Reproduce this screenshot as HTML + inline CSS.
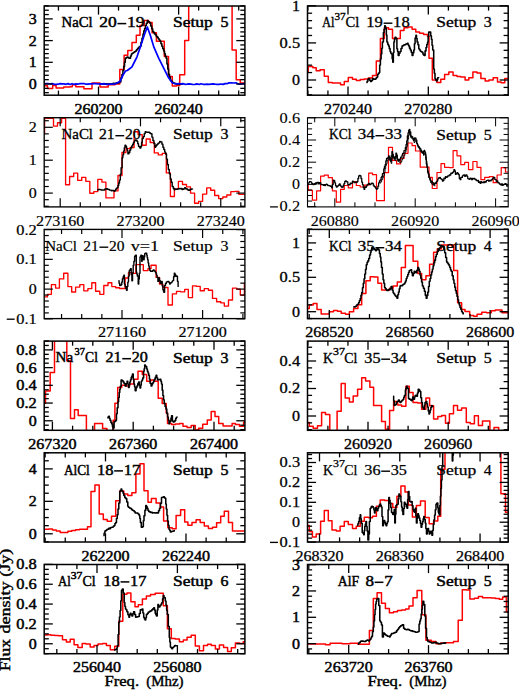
<!DOCTYPE html>
<html><head><meta charset="utf-8"><style>
html,body{margin:0;padding:0;background:#fff;}
svg{display:block;}
text{font-family:"Liberation Serif",serif;fill:#000;}
</style></head><body>
<svg width="519" height="690" viewBox="0 0 519 690">
<g id="L1">
<clipPath id="cL1"><rect x="44.2" y="6.0" width="200.7" height="89.2"/></clipPath>
<g clip-path="url(#cL1)" fill="none" stroke-linejoin="round">
<path d="M43.5,85.8H47.5V88.4H52.7V85.5H56.1V88.1H63.7V87.0H70.0V86.8H72.3V84.7H75.8V86.8H83.9V88.7H92.0V83.0H100.0V87.0H108.2V84.7H115.0V84.1H119.8V69.4H124.1V55.3H127.8V50.4H132.0V42.5H136.3V35.2H140.0V25.5H144.2V20.4H148.5V22.4H152.1V32.8H156.4V41.3H164.3V56.6H168.5V76.5H172.3V86.0H176.5V85.5H179.7V74.8H184.7V40.4H188.7V-10.0H232.1V49.9H236.2V79.7H240.3V83.0H246.0" stroke="#ff0000" stroke-width="1.49"/>
<path d="M100.00,84.20H101.00V83.89H102.00V83.93H103.00V84.08H104.00V84.23H105.00V83.88H106.00V83.85H107.00V83.90H108.00V84.19H109.00V83.81H110.00V84.00H111.00V84.00H112.00V83.82H113.00V83.36H114.00V83.46H115.00V83.30H115.98V83.03H116.96V82.77H117.94V82.88H118.92V82.10H119.90V82.10H120.90V77.95H121.90V74.63H122.90V70.50H123.70V66.38H124.50V62.19H125.30V58.30H126.25V57.60H127.20V57.10H128.00V57.42H128.80V58.17H129.60V58.30H130.50V56.03H131.40V54.10H132.18V53.33H132.95V52.95H133.72V52.33H134.50V51.70H135.50V50.94H136.50V49.84H137.50V48.60H138.33V47.71H139.17V46.82H140.00V46.20H141.00V42.34H142.00V38.36H143.00V34.00H143.80V30.88H144.60V28.47H145.40V25.50H146.35V23.27H147.30V20.60H148.10V21.49H148.90V22.03H149.70V23.00H150.70V26.04H151.70V28.87H152.70V31.60H153.62V32.62H154.55V34.08H155.47V35.03H156.40V36.40H157.30V37.35H158.20V38.75H159.10V39.98H160.00V41.30H160.93V43.66H161.85V46.24H162.77V48.78H163.70V51.00H164.50V53.71H165.30V56.15H166.10V58.30H166.93V63.90H167.77V69.07H168.60V74.20H169.50V77.13H170.40V80.30H171.20V80.91H172.00V81.97H172.80V82.70H173.60V83.05H174.40V83.45H175.20V83.43H176.00V84.00H177.00V83.86H178.00V84.34H179.00V84.19H180.00V84.29H181.00V83.97H182.00V84.20H183.00V84.30" stroke="#000000" stroke-width="1.54"/>
<path d="M43.5,84.2 L45.7,83.7 L47.8,83.5 L50.0,84.0 L52.0,83.6 L54.0,84.1 L56.0,84.4 L58.0,84.2 L60.0,83.6 L62.0,83.9 L64.0,83.9 L66.0,84.3 L68.0,83.6 L70.0,84.5 L72.0,83.7 L74.0,84.3 L76.0,83.9 L78.0,84.2 L80.0,83.5 L82.0,83.7 L84.0,83.5 L86.0,84.2 L88.0,84.1 L90.0,83.8 L92.0,83.8 L94.0,83.6 L96.0,83.7 L98.0,84.0 L100.0,83.8 L102.0,84.1 L104.0,83.6 L106.0,84.3 L108.0,84.4 L110.0,84.2 L112.0,84.1 L114.0,84.0 L116.0,83.6 L119.9,81.5 L123.5,74.2 L125.5,71.0 L127.2,70.5 L129.6,68.7 L132.0,66.9 L134.4,62.0 L136.9,57.1 L140.6,46.2 L144.2,35.2 L147.3,27.0 L150.3,35.2 L154.0,47.4 L156.4,52.8 L158.8,58.3 L161.2,63.2 L163.7,68.1 L166.1,72.9 L168.6,77.8 L172.2,82.7 L175.0,83.7 L177.0,83.8 L179.0,83.5 L181.0,83.8 L183.0,83.6 L185.0,84.3 L187.0,84.1 L189.0,83.8 L191.0,84.1 L193.0,84.5 L195.0,84.3 L197.0,83.9 L199.0,84.5 L201.0,83.7 L203.0,84.3 L205.0,84.3 L207.0,84.2 L209.0,84.4 L211.0,84.1 L213.0,83.9 L215.0,84.2 L217.0,84.4 L219.0,84.4 L221.0,84.0 L223.0,84.4 L225.0,83.6 L227.0,83.7 L229.0,82.9 L231.0,82.9 L234.0,83.0 L236.0,82.8 L238.0,84.0 L240.0,84.1 L242.0,84.0 L244.0,83.5 L246.0,84.0" stroke="#0000ff" stroke-width="1.71"/>
</g>
<g stroke="#000" fill="none">
<rect x="44.2" y="6.0" width="200.7" height="89.2" stroke-width="1.5"/>
<line x1="58.44" y1="95.20" x2="58.44" y2="90.60" stroke-width="1.3"/>
<line x1="58.44" y1="6.00" x2="58.44" y2="10.60" stroke-width="1.3"/>
<line x1="78.47" y1="95.20" x2="78.47" y2="90.60" stroke-width="1.3"/>
<line x1="78.47" y1="6.00" x2="78.47" y2="10.60" stroke-width="1.3"/>
<line x1="98.50" y1="95.20" x2="98.50" y2="86.60" stroke-width="1.3"/>
<line x1="98.50" y1="6.00" x2="98.50" y2="14.60" stroke-width="1.3"/>
<line x1="118.53" y1="95.20" x2="118.53" y2="90.60" stroke-width="1.3"/>
<line x1="118.53" y1="6.00" x2="118.53" y2="10.60" stroke-width="1.3"/>
<line x1="138.56" y1="95.20" x2="138.56" y2="90.60" stroke-width="1.3"/>
<line x1="138.56" y1="6.00" x2="138.56" y2="10.60" stroke-width="1.3"/>
<line x1="158.59" y1="95.20" x2="158.59" y2="90.60" stroke-width="1.3"/>
<line x1="158.59" y1="6.00" x2="158.59" y2="10.60" stroke-width="1.3"/>
<line x1="178.62" y1="95.20" x2="178.62" y2="86.60" stroke-width="1.3"/>
<line x1="178.62" y1="6.00" x2="178.62" y2="14.60" stroke-width="1.3"/>
<line x1="198.65" y1="95.20" x2="198.65" y2="90.60" stroke-width="1.3"/>
<line x1="198.65" y1="6.00" x2="198.65" y2="10.60" stroke-width="1.3"/>
<line x1="218.68" y1="95.20" x2="218.68" y2="90.60" stroke-width="1.3"/>
<line x1="218.68" y1="6.00" x2="218.68" y2="10.60" stroke-width="1.3"/>
<line x1="238.71" y1="95.20" x2="238.71" y2="90.60" stroke-width="1.3"/>
<line x1="238.71" y1="6.00" x2="238.71" y2="10.60" stroke-width="1.3"/>
<line x1="44.20" y1="5.88" x2="48.80" y2="5.88" stroke-width="1.3"/>
<line x1="244.90" y1="5.88" x2="240.30" y2="5.88" stroke-width="1.3"/>
<line x1="44.20" y1="10.22" x2="48.80" y2="10.22" stroke-width="1.3"/>
<line x1="244.90" y1="10.22" x2="240.30" y2="10.22" stroke-width="1.3"/>
<line x1="44.20" y1="14.56" x2="48.80" y2="14.56" stroke-width="1.3"/>
<line x1="244.90" y1="14.56" x2="240.30" y2="14.56" stroke-width="1.3"/>
<line x1="44.20" y1="18.90" x2="52.80" y2="18.90" stroke-width="1.3"/>
<line x1="244.90" y1="18.90" x2="236.30" y2="18.90" stroke-width="1.3"/>
<line x1="44.20" y1="23.24" x2="48.80" y2="23.24" stroke-width="1.3"/>
<line x1="244.90" y1="23.24" x2="240.30" y2="23.24" stroke-width="1.3"/>
<line x1="44.20" y1="27.58" x2="48.80" y2="27.58" stroke-width="1.3"/>
<line x1="244.90" y1="27.58" x2="240.30" y2="27.58" stroke-width="1.3"/>
<line x1="44.20" y1="31.92" x2="48.80" y2="31.92" stroke-width="1.3"/>
<line x1="244.90" y1="31.92" x2="240.30" y2="31.92" stroke-width="1.3"/>
<line x1="44.20" y1="36.26" x2="48.80" y2="36.26" stroke-width="1.3"/>
<line x1="244.90" y1="36.26" x2="240.30" y2="36.26" stroke-width="1.3"/>
<line x1="44.20" y1="40.60" x2="52.80" y2="40.60" stroke-width="1.3"/>
<line x1="244.90" y1="40.60" x2="236.30" y2="40.60" stroke-width="1.3"/>
<line x1="44.20" y1="44.94" x2="48.80" y2="44.94" stroke-width="1.3"/>
<line x1="244.90" y1="44.94" x2="240.30" y2="44.94" stroke-width="1.3"/>
<line x1="44.20" y1="49.28" x2="48.80" y2="49.28" stroke-width="1.3"/>
<line x1="244.90" y1="49.28" x2="240.30" y2="49.28" stroke-width="1.3"/>
<line x1="44.20" y1="53.62" x2="48.80" y2="53.62" stroke-width="1.3"/>
<line x1="244.90" y1="53.62" x2="240.30" y2="53.62" stroke-width="1.3"/>
<line x1="44.20" y1="57.96" x2="48.80" y2="57.96" stroke-width="1.3"/>
<line x1="244.90" y1="57.96" x2="240.30" y2="57.96" stroke-width="1.3"/>
<line x1="44.20" y1="62.30" x2="52.80" y2="62.30" stroke-width="1.3"/>
<line x1="244.90" y1="62.30" x2="236.30" y2="62.30" stroke-width="1.3"/>
<line x1="44.20" y1="66.64" x2="48.80" y2="66.64" stroke-width="1.3"/>
<line x1="244.90" y1="66.64" x2="240.30" y2="66.64" stroke-width="1.3"/>
<line x1="44.20" y1="70.98" x2="48.80" y2="70.98" stroke-width="1.3"/>
<line x1="244.90" y1="70.98" x2="240.30" y2="70.98" stroke-width="1.3"/>
<line x1="44.20" y1="75.32" x2="48.80" y2="75.32" stroke-width="1.3"/>
<line x1="244.90" y1="75.32" x2="240.30" y2="75.32" stroke-width="1.3"/>
<line x1="44.20" y1="79.66" x2="48.80" y2="79.66" stroke-width="1.3"/>
<line x1="244.90" y1="79.66" x2="240.30" y2="79.66" stroke-width="1.3"/>
<line x1="44.20" y1="84.00" x2="52.80" y2="84.00" stroke-width="1.3"/>
<line x1="244.90" y1="84.00" x2="236.30" y2="84.00" stroke-width="1.3"/>
<line x1="44.20" y1="88.34" x2="48.80" y2="88.34" stroke-width="1.3"/>
<line x1="244.90" y1="88.34" x2="240.30" y2="88.34" stroke-width="1.3"/>
<line x1="44.20" y1="92.68" x2="48.80" y2="92.68" stroke-width="1.3"/>
<line x1="244.90" y1="92.68" x2="240.30" y2="92.68" stroke-width="1.3"/>
</g>
<text x="98.50" y="113.80" text-anchor="middle" stroke="#000" stroke-width="0.45" font-size="14.0" textLength="48.2" lengthAdjust="spacingAndGlyphs">260200</text>
<text x="178.60" y="113.80" text-anchor="middle" stroke="#000" stroke-width="0.45" font-size="14.0" textLength="48.2" lengthAdjust="spacingAndGlyphs">260240</text>
<text x="36.80" y="23.85" text-anchor="end" stroke="#000" stroke-width="0.45" font-size="14.0" textLength="8.0" lengthAdjust="spacingAndGlyphs">3</text>
<text x="36.80" y="45.55" text-anchor="end" stroke="#000" stroke-width="0.45" font-size="14.0" textLength="8.0" lengthAdjust="spacingAndGlyphs">2</text>
<text x="36.80" y="67.25" text-anchor="end" stroke="#000" stroke-width="0.45" font-size="14.0" textLength="8.0" lengthAdjust="spacingAndGlyphs">1</text>
<text x="36.80" y="88.95" text-anchor="end" stroke="#000" stroke-width="0.45" font-size="14.0" textLength="8.0" lengthAdjust="spacingAndGlyphs">0</text>
</g>
<g id="L2">
<clipPath id="cL2"><rect x="44.2" y="117.7" width="200.7" height="89.2"/></clipPath>
<g clip-path="url(#cL2)" fill="none" stroke-linejoin="round">
<path d="M44.6,133.7H44.6V118.3H53.5V126.1H57.5V122.7H61.6V118.3H65.6V184.7H69.6V176.5H73.7V173.1H77.7V180.4H81.7V177.3H85.8V181.3H89.8V193.2H93.8V191.6H97.8V179.3H101.9V182.1H105.9V197.8H109.9V197.8H114.0V190.9H118.0V175.5H122.0V152.5H126.0V148.6H130.1V147.5H134.1V131.7H138.1V134.6H142.2V145.2H146.2V139.0H150.2V142.5H154.3V152.9H158.3V154.9H162.3V153.3H166.3V172.9H170.4V196.5H174.4V188.8H178.4V181.4H182.5V184.5H186.5V186.9H190.5V193.1H194.6V203.2H198.6V201.3H202.6V194.1H206.7V187.8H210.7V190.2H214.7V195.5H218.7V198.6H222.8V197.0H226.8V195.0H230.8V191.6H234.9V191.3H238.9V194.4H246.0" stroke="#ff0000" stroke-width="1.35"/>
<path d="M97.20,190.10H97.97V189.55H98.75V189.56H99.53V189.53H100.30V189.60H101.30V190.17H102.30V189.93H103.30V190.10H104.08V189.95H104.85V188.95H105.62V188.98H106.40V188.60H107.38V189.32H108.35V189.37H109.33V190.17H110.30V190.10H111.25V190.76H112.20V190.52H113.15V190.43H114.10V191.20H114.88V190.61H115.65V189.13H116.42V188.16H117.20V187.80H117.97V185.46H118.73V183.01H119.50V180.10H120.30V174.24H121.10V167.70H122.10V157.80H122.85V154.85H123.60V151.00H124.30V147.80H125.00V145.20H125.75V146.23H126.50V148.10H127.20V150.62H127.90V153.90H128.85V152.43H129.80V150.00H130.77V147.71H131.73V145.86H132.70V144.30H133.50V142.35H134.30V140.92H135.10V139.90H136.05V140.19H137.00V141.40H137.75V143.65H138.50V146.20H139.20V146.81H139.90V148.10H140.90V146.20H141.60V142.16H142.30V138.50H143.27V136.66H144.23V133.63H145.20V131.70H146.05V132.14H146.90V132.19H147.75V132.14H148.60V132.20H149.40V132.78H150.20V133.47H151.00V133.70H151.95V137.14H152.90V140.40H153.90V143.53H154.90V147.20H155.70V146.06H156.50V145.01H157.30V144.30H158.10V143.23H158.90V142.85H159.70V141.40H160.30V141.58H160.90V141.90H161.90V144.17H162.90V147.30H163.80V149.51H164.70V152.08H165.60V154.00H166.50V159.11H167.40V164.54H168.30V169.50H169.30V173.84H170.30V179.00H171.25V182.26H172.20V186.40H173.20V188.21H174.20V189.70H175.00V189.11H175.80V189.24H176.60V189.30H177.55V189.06H178.50V188.74H179.45V188.46H180.40V188.80H181.20V188.47H182.00V189.58H182.80V189.30H183.75V188.74H184.70V187.80H185.45V188.75H186.20V188.80H187.15V189.49H188.10V190.20H189.05V190.20H190.00V189.30H190.83V189.40H191.67V188.88H192.50V188.50" stroke="#000000" stroke-width="1.40"/>
</g>
<g stroke="#000" fill="none">
<rect x="44.2" y="117.7" width="200.7" height="89.2" stroke-width="1.35"/>
<line x1="60.20" y1="206.90" x2="60.20" y2="198.30" stroke-width="1.2"/>
<line x1="60.20" y1="117.70" x2="60.20" y2="126.30" stroke-width="1.2"/>
<line x1="80.27" y1="206.90" x2="80.27" y2="202.30" stroke-width="1.2"/>
<line x1="80.27" y1="117.70" x2="80.27" y2="122.30" stroke-width="1.2"/>
<line x1="100.34" y1="206.90" x2="100.34" y2="202.30" stroke-width="1.2"/>
<line x1="100.34" y1="117.70" x2="100.34" y2="122.30" stroke-width="1.2"/>
<line x1="120.41" y1="206.90" x2="120.41" y2="202.30" stroke-width="1.2"/>
<line x1="120.41" y1="117.70" x2="120.41" y2="122.30" stroke-width="1.2"/>
<line x1="140.48" y1="206.90" x2="140.48" y2="198.30" stroke-width="1.2"/>
<line x1="140.48" y1="117.70" x2="140.48" y2="126.30" stroke-width="1.2"/>
<line x1="160.55" y1="206.90" x2="160.55" y2="202.30" stroke-width="1.2"/>
<line x1="160.55" y1="117.70" x2="160.55" y2="122.30" stroke-width="1.2"/>
<line x1="180.62" y1="206.90" x2="180.62" y2="202.30" stroke-width="1.2"/>
<line x1="180.62" y1="117.70" x2="180.62" y2="122.30" stroke-width="1.2"/>
<line x1="200.69" y1="206.90" x2="200.69" y2="202.30" stroke-width="1.2"/>
<line x1="200.69" y1="117.70" x2="200.69" y2="122.30" stroke-width="1.2"/>
<line x1="220.76" y1="206.90" x2="220.76" y2="198.30" stroke-width="1.2"/>
<line x1="220.76" y1="117.70" x2="220.76" y2="126.30" stroke-width="1.2"/>
<line x1="240.83" y1="206.90" x2="240.83" y2="202.30" stroke-width="1.2"/>
<line x1="240.83" y1="117.70" x2="240.83" y2="122.30" stroke-width="1.2"/>
<line x1="44.20" y1="120.72" x2="48.80" y2="120.72" stroke-width="1.2"/>
<line x1="244.90" y1="120.72" x2="240.30" y2="120.72" stroke-width="1.2"/>
<line x1="44.20" y1="127.30" x2="52.80" y2="127.30" stroke-width="1.2"/>
<line x1="244.90" y1="127.30" x2="236.30" y2="127.30" stroke-width="1.2"/>
<line x1="44.20" y1="133.88" x2="48.80" y2="133.88" stroke-width="1.2"/>
<line x1="244.90" y1="133.88" x2="240.30" y2="133.88" stroke-width="1.2"/>
<line x1="44.20" y1="140.46" x2="48.80" y2="140.46" stroke-width="1.2"/>
<line x1="244.90" y1="140.46" x2="240.30" y2="140.46" stroke-width="1.2"/>
<line x1="44.20" y1="147.04" x2="48.80" y2="147.04" stroke-width="1.2"/>
<line x1="244.90" y1="147.04" x2="240.30" y2="147.04" stroke-width="1.2"/>
<line x1="44.20" y1="153.62" x2="48.80" y2="153.62" stroke-width="1.2"/>
<line x1="244.90" y1="153.62" x2="240.30" y2="153.62" stroke-width="1.2"/>
<line x1="44.20" y1="160.20" x2="52.80" y2="160.20" stroke-width="1.2"/>
<line x1="244.90" y1="160.20" x2="236.30" y2="160.20" stroke-width="1.2"/>
<line x1="44.20" y1="166.78" x2="48.80" y2="166.78" stroke-width="1.2"/>
<line x1="244.90" y1="166.78" x2="240.30" y2="166.78" stroke-width="1.2"/>
<line x1="44.20" y1="173.36" x2="48.80" y2="173.36" stroke-width="1.2"/>
<line x1="244.90" y1="173.36" x2="240.30" y2="173.36" stroke-width="1.2"/>
<line x1="44.20" y1="179.94" x2="48.80" y2="179.94" stroke-width="1.2"/>
<line x1="244.90" y1="179.94" x2="240.30" y2="179.94" stroke-width="1.2"/>
<line x1="44.20" y1="186.52" x2="48.80" y2="186.52" stroke-width="1.2"/>
<line x1="244.90" y1="186.52" x2="240.30" y2="186.52" stroke-width="1.2"/>
<line x1="44.20" y1="193.10" x2="52.80" y2="193.10" stroke-width="1.2"/>
<line x1="244.90" y1="193.10" x2="236.30" y2="193.10" stroke-width="1.2"/>
<line x1="44.20" y1="199.68" x2="48.80" y2="199.68" stroke-width="1.2"/>
<line x1="244.90" y1="199.68" x2="240.30" y2="199.68" stroke-width="1.2"/>
<line x1="44.20" y1="206.26" x2="48.80" y2="206.26" stroke-width="1.2"/>
<line x1="244.90" y1="206.26" x2="240.30" y2="206.26" stroke-width="1.2"/>
</g>
<text x="60.20" y="225.50" text-anchor="middle" stroke="#000" stroke-width="0.18" font-size="14.0" textLength="48.2" lengthAdjust="spacingAndGlyphs">273160</text>
<text x="140.50" y="225.50" text-anchor="middle" stroke="#000" stroke-width="0.18" font-size="14.0" textLength="48.2" lengthAdjust="spacingAndGlyphs">273200</text>
<text x="220.80" y="225.50" text-anchor="middle" stroke="#000" stroke-width="0.18" font-size="14.0" textLength="48.2" lengthAdjust="spacingAndGlyphs">273240</text>
<text x="36.80" y="132.25" text-anchor="end" stroke="#000" stroke-width="0.18" font-size="14.0" textLength="8.0" lengthAdjust="spacingAndGlyphs">2</text>
<text x="36.80" y="165.15" text-anchor="end" stroke="#000" stroke-width="0.18" font-size="14.0" textLength="8.0" lengthAdjust="spacingAndGlyphs">1</text>
<text x="36.80" y="198.05" text-anchor="end" stroke="#000" stroke-width="0.18" font-size="14.0" textLength="8.0" lengthAdjust="spacingAndGlyphs">0</text>
</g>
<g id="L3">
<clipPath id="cL3"><rect x="44.2" y="229.4" width="200.7" height="89.2"/></clipPath>
<g clip-path="url(#cL3)" fill="none" stroke-linejoin="round">
<path d="M43.5,296.9H47.4V294.3H51.4V284.6H55.6V288.1H59.4V278.9H63.7V273.2H67.9V286.6H71.7V292.0H75.6V287.1H79.8V284.6H83.8V290.8H87.9V288.6H91.8V282.7H95.6V291.2H99.8V294.3H103.8V285.5H108.0V282.7H111.8V286.6H115.7V287.7H119.5V288.5H125.1V278.0H128.5V272.6H132.5V273.3H135.9V264.6H143.3V270.6H148.0V268.6H151.0V265.2H156.1V277.4H159.5V284.1H162.9V287.5H168.0V305.0H172.4V293.8H176.5V291.4H180.6V291.8H184.7V289.4H188.3V297.6H192.5V285.8H196.4V286.4H200.2V290.7H204.3V288.6H208.4V290.2H212.5V298.4H216.6V301.7H220.7V302.8H224.3V306.1H228.5V300.0H232.5V288.1H236.7V289.1H240.3V295.1H244.4V282.8H246.0" stroke="#ff0000" stroke-width="1.35"/>
<path d="M118.40,280.70H119.05V283.16H119.70V285.50H120.40V285.26H121.10V284.80H121.75V282.00H122.40V278.70H123.10V276.82H123.80V275.30H124.40V284.10H125.10V286.25H125.80V288.48H126.50V290.20H127.15V286.48H127.80V282.10H128.50V276.10H129.20V270.60H129.85V269.72H130.50V268.60H131.20V274.74H131.90V280.70H132.55V272.95H133.20V265.20H133.90V261.22H134.60V256.50H135.05V255.82H135.50V255.10H136.30V272.00H136.80V273.96H137.30V276.00H138.20V284.10H138.75V279.05H139.30V273.30H140.00V257.10H140.45V256.21H140.90V255.10H141.70V261.20H142.20V258.34H142.70V255.80H143.15V257.65H143.60V259.80H144.15V256.80H144.70V253.80H145.25V253.09H145.80V253.10H146.70V255.10H147.15V257.54H147.60V259.80H148.15V263.04H148.70V265.90H149.25V268.19H149.80V270.60H150.60V271.23H151.40V271.30H152.07V271.21H152.73V270.48H153.40V270.00H154.10V270.80H154.80V271.30H155.45V272.34H156.10V274.00H156.60V275.34H157.10V277.40H157.90V281.40H158.35V280.08H158.80V278.00H159.50V280.53H160.20V283.40H160.85V282.17H161.50V281.40H162.20V285.77H162.90V289.50H163.35V291.05H163.80V292.20H164.60V285.50H165.45V283.50H166.30V282.10H166.97V281.72H167.63V281.43H168.30V281.40H168.95V282.57H169.60V284.10H170.27V283.04H170.93V282.79H171.60V282.10H172.25V281.09H172.90V280.40H173.60V276.77H174.30V273.30H174.95V274.55H175.60V276.30H176.20V275.99H176.80V276.30H177.45V281.28H178.10V287.00" stroke="#000000" stroke-width="1.40"/>
</g>
<g stroke="#000" fill="none">
<rect x="44.2" y="229.4" width="200.7" height="89.2" stroke-width="1.35"/>
<line x1="61.55" y1="318.60" x2="61.55" y2="314.00" stroke-width="1.2"/>
<line x1="61.55" y1="229.40" x2="61.55" y2="234.00" stroke-width="1.2"/>
<line x1="81.70" y1="318.60" x2="81.70" y2="314.00" stroke-width="1.2"/>
<line x1="81.70" y1="229.40" x2="81.70" y2="234.00" stroke-width="1.2"/>
<line x1="101.85" y1="318.60" x2="101.85" y2="314.00" stroke-width="1.2"/>
<line x1="101.85" y1="229.40" x2="101.85" y2="234.00" stroke-width="1.2"/>
<line x1="122.00" y1="318.60" x2="122.00" y2="310.00" stroke-width="1.2"/>
<line x1="122.00" y1="229.40" x2="122.00" y2="238.00" stroke-width="1.2"/>
<line x1="142.15" y1="318.60" x2="142.15" y2="314.00" stroke-width="1.2"/>
<line x1="142.15" y1="229.40" x2="142.15" y2="234.00" stroke-width="1.2"/>
<line x1="162.30" y1="318.60" x2="162.30" y2="314.00" stroke-width="1.2"/>
<line x1="162.30" y1="229.40" x2="162.30" y2="234.00" stroke-width="1.2"/>
<line x1="182.45" y1="318.60" x2="182.45" y2="314.00" stroke-width="1.2"/>
<line x1="182.45" y1="229.40" x2="182.45" y2="234.00" stroke-width="1.2"/>
<line x1="202.60" y1="318.60" x2="202.60" y2="310.00" stroke-width="1.2"/>
<line x1="202.60" y1="229.40" x2="202.60" y2="238.00" stroke-width="1.2"/>
<line x1="222.75" y1="318.60" x2="222.75" y2="314.00" stroke-width="1.2"/>
<line x1="222.75" y1="229.40" x2="222.75" y2="234.00" stroke-width="1.2"/>
<line x1="242.90" y1="318.60" x2="242.90" y2="314.00" stroke-width="1.2"/>
<line x1="242.90" y1="229.40" x2="242.90" y2="234.00" stroke-width="1.2"/>
<line x1="44.20" y1="229.60" x2="52.80" y2="229.60" stroke-width="1.2"/>
<line x1="244.90" y1="229.60" x2="236.30" y2="229.60" stroke-width="1.2"/>
<line x1="44.20" y1="235.55" x2="48.80" y2="235.55" stroke-width="1.2"/>
<line x1="244.90" y1="235.55" x2="240.30" y2="235.55" stroke-width="1.2"/>
<line x1="44.20" y1="241.50" x2="48.80" y2="241.50" stroke-width="1.2"/>
<line x1="244.90" y1="241.50" x2="240.30" y2="241.50" stroke-width="1.2"/>
<line x1="44.20" y1="247.45" x2="48.80" y2="247.45" stroke-width="1.2"/>
<line x1="244.90" y1="247.45" x2="240.30" y2="247.45" stroke-width="1.2"/>
<line x1="44.20" y1="253.40" x2="48.80" y2="253.40" stroke-width="1.2"/>
<line x1="244.90" y1="253.40" x2="240.30" y2="253.40" stroke-width="1.2"/>
<line x1="44.20" y1="259.35" x2="52.80" y2="259.35" stroke-width="1.2"/>
<line x1="244.90" y1="259.35" x2="236.30" y2="259.35" stroke-width="1.2"/>
<line x1="44.20" y1="265.30" x2="48.80" y2="265.30" stroke-width="1.2"/>
<line x1="244.90" y1="265.30" x2="240.30" y2="265.30" stroke-width="1.2"/>
<line x1="44.20" y1="271.25" x2="48.80" y2="271.25" stroke-width="1.2"/>
<line x1="244.90" y1="271.25" x2="240.30" y2="271.25" stroke-width="1.2"/>
<line x1="44.20" y1="277.20" x2="48.80" y2="277.20" stroke-width="1.2"/>
<line x1="244.90" y1="277.20" x2="240.30" y2="277.20" stroke-width="1.2"/>
<line x1="44.20" y1="283.15" x2="48.80" y2="283.15" stroke-width="1.2"/>
<line x1="244.90" y1="283.15" x2="240.30" y2="283.15" stroke-width="1.2"/>
<line x1="44.20" y1="289.10" x2="52.80" y2="289.10" stroke-width="1.2"/>
<line x1="244.90" y1="289.10" x2="236.30" y2="289.10" stroke-width="1.2"/>
<line x1="44.20" y1="295.05" x2="48.80" y2="295.05" stroke-width="1.2"/>
<line x1="244.90" y1="295.05" x2="240.30" y2="295.05" stroke-width="1.2"/>
<line x1="44.20" y1="301.00" x2="48.80" y2="301.00" stroke-width="1.2"/>
<line x1="244.90" y1="301.00" x2="240.30" y2="301.00" stroke-width="1.2"/>
<line x1="44.20" y1="306.95" x2="48.80" y2="306.95" stroke-width="1.2"/>
<line x1="244.90" y1="306.95" x2="240.30" y2="306.95" stroke-width="1.2"/>
<line x1="44.20" y1="312.90" x2="48.80" y2="312.90" stroke-width="1.2"/>
<line x1="244.90" y1="312.90" x2="240.30" y2="312.90" stroke-width="1.2"/>
<line x1="44.20" y1="318.85" x2="52.80" y2="318.85" stroke-width="1.2"/>
<line x1="244.90" y1="318.85" x2="236.30" y2="318.85" stroke-width="1.2"/>
</g>
<text x="122.00" y="337.20" text-anchor="middle" stroke="#000" stroke-width="0.2" font-size="14.0" textLength="48.2" lengthAdjust="spacingAndGlyphs">271160</text>
<text x="202.60" y="337.20" text-anchor="middle" stroke="#000" stroke-width="0.2" font-size="14.0" textLength="48.2" lengthAdjust="spacingAndGlyphs">271200</text>
<text x="36.80" y="234.55" text-anchor="end" stroke="#000" stroke-width="0.2" font-size="14.0" textLength="20.5" lengthAdjust="spacingAndGlyphs">0.2</text>
<text x="36.80" y="264.25" text-anchor="end" stroke="#000" stroke-width="0.2" font-size="14.0" textLength="20.5" lengthAdjust="spacingAndGlyphs">0.1</text>
<text x="36.80" y="294.05" text-anchor="end" stroke="#000" stroke-width="0.2" font-size="14.0" textLength="8.0" lengthAdjust="spacingAndGlyphs">0</text>
<text x="36.80" y="323.75" text-anchor="end" stroke="#000" stroke-width="0.2" font-size="14.0" textLength="20.5" lengthAdjust="spacingAndGlyphs">0.1</text>
<line x1="6.74" y1="319.20" x2="14.64" y2="319.20" stroke="#000" stroke-width="1.32"/>
</g>
<g id="L4">
<clipPath id="cL4"><rect x="44.2" y="341.1" width="200.7" height="89.2"/></clipPath>
<g clip-path="url(#cL4)" fill="none" stroke-linejoin="round">
<path d="M44.6,403.2H45.5V390.9H50.2V372.4H54.5V330.0H66.8V360.8H70.5V418.6H74.5V409.7H78.2V415.5H86.4V432.0H94.6V423.5H102.6V428.6H106.9V432.0H113.1V420.2H114.9V403.2H117.7V387.4H121.7V385.3H125.7V386.0H129.7V384.0H133.7V379.3H138.0V371.2H142.3V374.6H146.7V381.3H150.7V380.0H154.7V381.3H158.2V398.2H162.2V403.6H166.2V413.0H167.5V423.4H171.6V424.5H175.6V423.9H179.7V423.4H183.0V426.3H187.1V427.5H191.2V425.5H195.3V430.0H198.6V428.3H202.7V424.2H207.3V420.1H211.2V411.4H215.0V416.4H218.7V423.4H223.1V425.9H232.1V423.4H235.4V424.5H239.5V426.2H243.6V422.3H246.0" stroke="#ff0000" stroke-width="1.49"/>
<path d="M107.20,417.80H107.95V417.08H108.70V416.30H109.35V418.35H110.00V420.20H110.90V422.51H111.80V424.00H112.45V426.43H113.10V427.90H114.10V421.70H114.90V421.41H115.70V420.20H116.45V413.84H117.20V407.80H118.00V401.70H118.60V397.59H119.20V392.40H119.75V389.21H120.30V386.20H121.10V380.10H122.10V380.82H123.10V382.00H124.10V383.51H125.10V386.00H126.10V383.66H127.10V381.30H127.80V383.94H128.50V387.40H129.15V384.43H129.80V382.00H130.50V379.78H131.20V377.30H131.85V375.93H132.50V373.90H133.20V379.25H133.90V384.00H134.55V386.85H135.20V390.70H136.05V387.82H136.90V386.00H137.75V383.71H138.60V382.00H139.30V385.06H140.00V388.00H140.65V385.06H141.30V381.30H142.00V379.96H142.70V377.90H143.60V371.20H144.15V368.67H144.70V365.10H145.35V365.91H146.00V366.50H146.70V369.01H147.40V371.20H148.05V372.95H148.70V375.20H149.40V379.03H150.10V383.30H151.10V386.00H151.95V384.00H152.80V382.70H153.60V381.04H154.40V379.30H155.25V377.38H156.10V375.20H156.80V377.69H157.50V380.00H158.40V379.64H159.30V379.44H160.20V379.30H160.85V381.35H161.50V384.00H162.20V390.13H162.90V395.50H163.55V399.65H164.20V403.60H165.10V406.60H166.00V409.00H166.80V413.37H167.60V417.00H168.30V420.14H169.00V423.80H169.65V421.99H170.30V421.10H170.95V418.14H171.60V415.70H172.40V421.00H173.20V421.89H174.00V421.80H174.85V420.45H175.70V418.40H176.35V417.29H177.00V416.40" stroke="#000000" stroke-width="1.54"/>
</g>
<g stroke="#000" fill="none">
<rect x="44.2" y="341.1" width="200.7" height="89.2" stroke-width="1.5"/>
<line x1="52.40" y1="430.30" x2="52.40" y2="421.70" stroke-width="1.3"/>
<line x1="52.40" y1="341.10" x2="52.40" y2="349.70" stroke-width="1.3"/>
<line x1="72.60" y1="430.30" x2="72.60" y2="425.70" stroke-width="1.3"/>
<line x1="72.60" y1="341.10" x2="72.60" y2="345.70" stroke-width="1.3"/>
<line x1="92.80" y1="430.30" x2="92.80" y2="425.70" stroke-width="1.3"/>
<line x1="92.80" y1="341.10" x2="92.80" y2="345.70" stroke-width="1.3"/>
<line x1="113.00" y1="430.30" x2="113.00" y2="425.70" stroke-width="1.3"/>
<line x1="113.00" y1="341.10" x2="113.00" y2="345.70" stroke-width="1.3"/>
<line x1="133.20" y1="430.30" x2="133.20" y2="421.70" stroke-width="1.3"/>
<line x1="133.20" y1="341.10" x2="133.20" y2="349.70" stroke-width="1.3"/>
<line x1="153.40" y1="430.30" x2="153.40" y2="425.70" stroke-width="1.3"/>
<line x1="153.40" y1="341.10" x2="153.40" y2="345.70" stroke-width="1.3"/>
<line x1="173.60" y1="430.30" x2="173.60" y2="425.70" stroke-width="1.3"/>
<line x1="173.60" y1="341.10" x2="173.60" y2="345.70" stroke-width="1.3"/>
<line x1="193.80" y1="430.30" x2="193.80" y2="425.70" stroke-width="1.3"/>
<line x1="193.80" y1="341.10" x2="193.80" y2="345.70" stroke-width="1.3"/>
<line x1="214.00" y1="430.30" x2="214.00" y2="421.70" stroke-width="1.3"/>
<line x1="214.00" y1="341.10" x2="214.00" y2="349.70" stroke-width="1.3"/>
<line x1="234.20" y1="430.30" x2="234.20" y2="425.70" stroke-width="1.3"/>
<line x1="234.20" y1="341.10" x2="234.20" y2="345.70" stroke-width="1.3"/>
<line x1="44.20" y1="341.04" x2="48.80" y2="341.04" stroke-width="1.3"/>
<line x1="244.90" y1="341.04" x2="240.30" y2="341.04" stroke-width="1.3"/>
<line x1="44.20" y1="345.47" x2="48.80" y2="345.47" stroke-width="1.3"/>
<line x1="244.90" y1="345.47" x2="240.30" y2="345.47" stroke-width="1.3"/>
<line x1="44.20" y1="349.90" x2="52.80" y2="349.90" stroke-width="1.3"/>
<line x1="244.90" y1="349.90" x2="236.30" y2="349.90" stroke-width="1.3"/>
<line x1="44.20" y1="354.33" x2="48.80" y2="354.33" stroke-width="1.3"/>
<line x1="244.90" y1="354.33" x2="240.30" y2="354.33" stroke-width="1.3"/>
<line x1="44.20" y1="358.76" x2="48.80" y2="358.76" stroke-width="1.3"/>
<line x1="244.90" y1="358.76" x2="240.30" y2="358.76" stroke-width="1.3"/>
<line x1="44.20" y1="363.19" x2="48.80" y2="363.19" stroke-width="1.3"/>
<line x1="244.90" y1="363.19" x2="240.30" y2="363.19" stroke-width="1.3"/>
<line x1="44.20" y1="367.62" x2="52.80" y2="367.62" stroke-width="1.3"/>
<line x1="244.90" y1="367.62" x2="236.30" y2="367.62" stroke-width="1.3"/>
<line x1="44.20" y1="372.05" x2="48.80" y2="372.05" stroke-width="1.3"/>
<line x1="244.90" y1="372.05" x2="240.30" y2="372.05" stroke-width="1.3"/>
<line x1="44.20" y1="376.48" x2="48.80" y2="376.48" stroke-width="1.3"/>
<line x1="244.90" y1="376.48" x2="240.30" y2="376.48" stroke-width="1.3"/>
<line x1="44.20" y1="380.91" x2="48.80" y2="380.91" stroke-width="1.3"/>
<line x1="244.90" y1="380.91" x2="240.30" y2="380.91" stroke-width="1.3"/>
<line x1="44.20" y1="385.34" x2="52.80" y2="385.34" stroke-width="1.3"/>
<line x1="244.90" y1="385.34" x2="236.30" y2="385.34" stroke-width="1.3"/>
<line x1="44.20" y1="389.77" x2="48.80" y2="389.77" stroke-width="1.3"/>
<line x1="244.90" y1="389.77" x2="240.30" y2="389.77" stroke-width="1.3"/>
<line x1="44.20" y1="394.20" x2="48.80" y2="394.20" stroke-width="1.3"/>
<line x1="244.90" y1="394.20" x2="240.30" y2="394.20" stroke-width="1.3"/>
<line x1="44.20" y1="398.63" x2="48.80" y2="398.63" stroke-width="1.3"/>
<line x1="244.90" y1="398.63" x2="240.30" y2="398.63" stroke-width="1.3"/>
<line x1="44.20" y1="403.06" x2="52.80" y2="403.06" stroke-width="1.3"/>
<line x1="244.90" y1="403.06" x2="236.30" y2="403.06" stroke-width="1.3"/>
<line x1="44.20" y1="407.49" x2="48.80" y2="407.49" stroke-width="1.3"/>
<line x1="244.90" y1="407.49" x2="240.30" y2="407.49" stroke-width="1.3"/>
<line x1="44.20" y1="411.92" x2="48.80" y2="411.92" stroke-width="1.3"/>
<line x1="244.90" y1="411.92" x2="240.30" y2="411.92" stroke-width="1.3"/>
<line x1="44.20" y1="416.35" x2="48.80" y2="416.35" stroke-width="1.3"/>
<line x1="244.90" y1="416.35" x2="240.30" y2="416.35" stroke-width="1.3"/>
<line x1="44.20" y1="420.78" x2="52.80" y2="420.78" stroke-width="1.3"/>
<line x1="244.90" y1="420.78" x2="236.30" y2="420.78" stroke-width="1.3"/>
<line x1="44.20" y1="425.21" x2="48.80" y2="425.21" stroke-width="1.3"/>
<line x1="244.90" y1="425.21" x2="240.30" y2="425.21" stroke-width="1.3"/>
<line x1="44.20" y1="429.64" x2="48.80" y2="429.64" stroke-width="1.3"/>
<line x1="244.90" y1="429.64" x2="240.30" y2="429.64" stroke-width="1.3"/>
</g>
<text x="52.40" y="448.90" text-anchor="middle" stroke="#000" stroke-width="0.45" font-size="14.0" textLength="48.2" lengthAdjust="spacingAndGlyphs">267320</text>
<text x="133.20" y="448.90" text-anchor="middle" stroke="#000" stroke-width="0.45" font-size="14.0" textLength="48.2" lengthAdjust="spacingAndGlyphs">267360</text>
<text x="214.00" y="448.90" text-anchor="middle" stroke="#000" stroke-width="0.45" font-size="14.0" textLength="48.2" lengthAdjust="spacingAndGlyphs">267400</text>
<text x="36.80" y="354.85" text-anchor="end" stroke="#000" stroke-width="0.45" font-size="14.0" textLength="20.5" lengthAdjust="spacingAndGlyphs">0.8</text>
<text x="36.80" y="372.55" text-anchor="end" stroke="#000" stroke-width="0.45" font-size="14.0" textLength="20.5" lengthAdjust="spacingAndGlyphs">0.6</text>
<text x="36.80" y="390.35" text-anchor="end" stroke="#000" stroke-width="0.45" font-size="14.0" textLength="20.5" lengthAdjust="spacingAndGlyphs">0.4</text>
<text x="36.80" y="408.05" text-anchor="end" stroke="#000" stroke-width="0.45" font-size="14.0" textLength="20.5" lengthAdjust="spacingAndGlyphs">0.2</text>
<text x="36.80" y="425.75" text-anchor="end" stroke="#000" stroke-width="0.45" font-size="14.0" textLength="8.0" lengthAdjust="spacingAndGlyphs">0</text>
</g>
<g id="L5">
<clipPath id="cL5"><rect x="44.2" y="452.8" width="200.7" height="89.2"/></clipPath>
<g clip-path="url(#cL5)" fill="none" stroke-linejoin="round">
<path d="M43.5,529.3H48.6V528.9H52.5V530.1H56.3V530.9H60.2V532.4H64.0V532.4H67.9V531.3H71.7V530.6H75.6V529.8H79.5V529.3H83.3V529.3H87.5V526.7H91.0V491.6H94.9V485.1H99.2V513.9H103.3V519.6H107.2V521.2H111.5V516.2H115.7V500.8H119.7V491.0H123.8V494.1H127.8V495.5H131.9V492.8H135.9V473.9H140.0V463.8H144.0V490.7H148.0V502.2H151.4V498.4H156.1V502.9H160.2V506.9H163.6V521.1H167.8V527.7H172.2V528.8H176.1V515.4H180.6V509.7H184.7V521.9H187.9V525.2H192.0V522.4H196.1V519.8H200.2V522.4H204.3V526.0H208.4V528.5H212.5V527.3H216.6V522.8H220.7V516.2H224.3V511.3H228.5V522.4H232.5V530.9H246.0" stroke="#ff0000" stroke-width="1.49"/>
<path d="M103.30,535.50H104.10V533.25H104.90V530.90H105.67V530.62H106.43V530.08H107.20V529.30H107.97V529.29H108.75V528.34H109.53V528.64H110.30V527.80H111.08V527.49H111.85V527.30H112.62V526.93H113.40V526.30H114.17V525.43H114.93V523.47H115.70V522.40H116.45V518.42H117.20V514.70H118.00V509.12H118.80V503.10H119.80V491.60H120.45V490.39H121.10V489.00H121.75V490.45H122.40V491.40H123.10V493.31H123.80V495.50H124.80V497.61H125.80V498.80H126.80V502.06H127.80V506.30H128.47V507.19H129.13V507.51H129.80V508.30H130.70V508.49H131.60V509.81H132.50V510.30H133.40V510.75H134.30V511.83H135.20V513.00H136.10V513.06H137.00V513.12H137.90V513.70H138.60V514.36H139.30V515.70H139.85V518.62H140.40V522.40H141.30V527.20H142.00V527.20H142.70V526.50H143.35V520.68H144.00V515.70H144.90V510.31H145.80V505.60H146.45V506.53H147.10V508.30H147.90V510.36H148.70V511.60H149.60V511.88H150.50V512.39H151.40V512.30H152.25V512.95H153.10V512.65H153.95V512.72H154.80V513.00H155.70V512.89H156.60V512.76H157.50V513.00H158.50V510.74H159.50V508.30H160.50V503.37H161.50V497.50H162.20V497.27H162.90V497.29H163.60V496.80H164.40V497.89H165.20V498.20H165.75V503.93H166.30V509.00H166.95V515.22H167.60V521.10H168.30V525.20H169.00V529.20H169.65V530.15H170.30V531.90H171.30V531.43H172.30V531.20H173.30V530.90H174.30V529.90" stroke="#000000" stroke-width="1.54"/>
</g>
<g stroke="#000" fill="none">
<rect x="44.2" y="452.8" width="200.7" height="89.2" stroke-width="1.5"/>
<line x1="45.14" y1="542.00" x2="45.14" y2="537.40" stroke-width="1.3"/>
<line x1="45.14" y1="452.80" x2="45.14" y2="457.40" stroke-width="1.3"/>
<line x1="65.26" y1="542.00" x2="65.26" y2="537.40" stroke-width="1.3"/>
<line x1="65.26" y1="452.80" x2="65.26" y2="457.40" stroke-width="1.3"/>
<line x1="85.38" y1="542.00" x2="85.38" y2="537.40" stroke-width="1.3"/>
<line x1="85.38" y1="452.80" x2="85.38" y2="457.40" stroke-width="1.3"/>
<line x1="105.50" y1="542.00" x2="105.50" y2="533.40" stroke-width="1.3"/>
<line x1="105.50" y1="452.80" x2="105.50" y2="461.40" stroke-width="1.3"/>
<line x1="125.62" y1="542.00" x2="125.62" y2="537.40" stroke-width="1.3"/>
<line x1="125.62" y1="452.80" x2="125.62" y2="457.40" stroke-width="1.3"/>
<line x1="145.74" y1="542.00" x2="145.74" y2="537.40" stroke-width="1.3"/>
<line x1="145.74" y1="452.80" x2="145.74" y2="457.40" stroke-width="1.3"/>
<line x1="165.86" y1="542.00" x2="165.86" y2="537.40" stroke-width="1.3"/>
<line x1="165.86" y1="452.80" x2="165.86" y2="457.40" stroke-width="1.3"/>
<line x1="185.98" y1="542.00" x2="185.98" y2="533.40" stroke-width="1.3"/>
<line x1="185.98" y1="452.80" x2="185.98" y2="461.40" stroke-width="1.3"/>
<line x1="206.10" y1="542.00" x2="206.10" y2="537.40" stroke-width="1.3"/>
<line x1="206.10" y1="452.80" x2="206.10" y2="457.40" stroke-width="1.3"/>
<line x1="226.22" y1="542.00" x2="226.22" y2="537.40" stroke-width="1.3"/>
<line x1="226.22" y1="452.80" x2="226.22" y2="457.40" stroke-width="1.3"/>
<line x1="44.20" y1="452.68" x2="48.80" y2="452.68" stroke-width="1.3"/>
<line x1="244.90" y1="452.68" x2="240.30" y2="452.68" stroke-width="1.3"/>
<line x1="44.20" y1="460.79" x2="48.80" y2="460.79" stroke-width="1.3"/>
<line x1="244.90" y1="460.79" x2="240.30" y2="460.79" stroke-width="1.3"/>
<line x1="44.20" y1="468.90" x2="52.80" y2="468.90" stroke-width="1.3"/>
<line x1="244.90" y1="468.90" x2="236.30" y2="468.90" stroke-width="1.3"/>
<line x1="44.20" y1="477.01" x2="48.80" y2="477.01" stroke-width="1.3"/>
<line x1="244.90" y1="477.01" x2="240.30" y2="477.01" stroke-width="1.3"/>
<line x1="44.20" y1="485.12" x2="48.80" y2="485.12" stroke-width="1.3"/>
<line x1="244.90" y1="485.12" x2="240.30" y2="485.12" stroke-width="1.3"/>
<line x1="44.20" y1="493.23" x2="48.80" y2="493.23" stroke-width="1.3"/>
<line x1="244.90" y1="493.23" x2="240.30" y2="493.23" stroke-width="1.3"/>
<line x1="44.20" y1="501.34" x2="52.80" y2="501.34" stroke-width="1.3"/>
<line x1="244.90" y1="501.34" x2="236.30" y2="501.34" stroke-width="1.3"/>
<line x1="44.20" y1="509.45" x2="48.80" y2="509.45" stroke-width="1.3"/>
<line x1="244.90" y1="509.45" x2="240.30" y2="509.45" stroke-width="1.3"/>
<line x1="44.20" y1="517.56" x2="48.80" y2="517.56" stroke-width="1.3"/>
<line x1="244.90" y1="517.56" x2="240.30" y2="517.56" stroke-width="1.3"/>
<line x1="44.20" y1="525.67" x2="48.80" y2="525.67" stroke-width="1.3"/>
<line x1="244.90" y1="525.67" x2="240.30" y2="525.67" stroke-width="1.3"/>
<line x1="44.20" y1="533.78" x2="52.80" y2="533.78" stroke-width="1.3"/>
<line x1="244.90" y1="533.78" x2="236.30" y2="533.78" stroke-width="1.3"/>
<line x1="44.20" y1="541.89" x2="48.80" y2="541.89" stroke-width="1.3"/>
<line x1="244.90" y1="541.89" x2="240.30" y2="541.89" stroke-width="1.3"/>
</g>
<text x="105.50" y="560.60" text-anchor="middle" stroke="#000" stroke-width="0.45" font-size="14.0" textLength="48.2" lengthAdjust="spacingAndGlyphs">262200</text>
<text x="186.00" y="560.60" text-anchor="middle" stroke="#000" stroke-width="0.45" font-size="14.0" textLength="48.2" lengthAdjust="spacingAndGlyphs">262240</text>
<text x="36.80" y="473.85" text-anchor="end" stroke="#000" stroke-width="0.45" font-size="14.0" textLength="8.0" lengthAdjust="spacingAndGlyphs">4</text>
<text x="36.80" y="506.35" text-anchor="end" stroke="#000" stroke-width="0.45" font-size="14.0" textLength="8.0" lengthAdjust="spacingAndGlyphs">2</text>
<text x="36.80" y="538.75" text-anchor="end" stroke="#000" stroke-width="0.45" font-size="14.0" textLength="8.0" lengthAdjust="spacingAndGlyphs">0</text>
</g>
<g id="L6">
<clipPath id="cL6"><rect x="44.2" y="564.5" width="200.7" height="89.2"/></clipPath>
<g clip-path="url(#cL6)" fill="none" stroke-linejoin="round">
<path d="M43.5,635.0H47.1V634.7H50.9V635.2H54.8V635.5H58.6V635.8H62.5V639.8H66.4V641.9H70.2V639.3H74.1V644.7H77.9V647.5H82.2V643.5H85.9V643.9H90.2V647.0H94.1V645.5H98.0V643.9H102.6V643.5H106.4V645.5H110.3V649.8H114.7V646.2H118.8V621.3H122.8V594.3H126.9V592.9H130.9V601.7H135.0V606.7H138.3V604.8H142.4V599.0H146.4V596.0H150.5V594.5H155.2V593.2H163.3V605.7H167.4V628.7H171.3V638.5H175.2V639.0H179.4V641.8H183.3V640.1H187.1V637.3H191.2V635.2H195.3V645.9H199.4V650.8H203.5V645.5H207.6V644.2H211.2V645.5H215.4V649.1H219.4V645.0H223.6V647.5H227.6V651.6H231.3V647.8H235.4V642.9H239.5V643.4H243.3V641.8H246.0" stroke="#ff0000" stroke-width="1.49"/>
<path d="M114.10,650.10H115.10V649.59H116.10V649.50H116.75V648.08H117.40V645.50H118.10V634.60H118.80V622.60H119.45V617.05H120.10V610.50H120.80V600.70H121.50V590.20H122.40V588.90H123.20V592.90H124.20V602.40H124.85V606.20H125.50V609.10H126.20V609.85H126.90V611.80H127.90V614.65H128.90V617.20H129.55V614.90H130.20V613.20H131.05V614.83H131.90V615.90H132.75V613.77H133.60V611.80H134.60V614.57H135.60V617.20H136.50V617.02H137.40V616.82H138.30V616.50H139.30V613.54H140.30V609.80H141.20V610.03H142.10V609.10H142.90V612.96H143.70V617.20H144.40V618.92H145.10V619.90H145.75V617.67H146.40V614.50H147.30V613.47H148.20V612.25H149.10V611.80H150.00V611.13H150.90V610.78H151.80V609.80H152.80V608.83H153.80V607.80H154.50V610.12H155.20V613.20H155.85V614.80H156.50V615.90H157.20V609.94H157.90V604.40H158.55V606.21H159.20V607.10H159.90V605.70H160.60V605.10H161.25V603.86H161.90V602.40H162.60V598.86H163.30V595.60H163.95V597.23H164.60V597.70H165.30V600.97H166.00V605.10H166.65V610.26H167.30V614.50H168.30V626.60H169.30V637.40H169.85V642.05H170.40V646.90H171.10V647.70H171.80V648.80H172.60V647.50H173.40V646.90H174.05V646.19H174.70V645.50H175.60V645.77H176.50V645.00" stroke="#000000" stroke-width="1.54"/>
</g>
<g stroke="#000" fill="none">
<rect x="44.2" y="564.5" width="200.7" height="89.2" stroke-width="1.5"/>
<line x1="56.80" y1="653.70" x2="56.80" y2="649.10" stroke-width="1.3"/>
<line x1="56.80" y1="564.50" x2="56.80" y2="569.10" stroke-width="1.3"/>
<line x1="76.90" y1="653.70" x2="76.90" y2="649.10" stroke-width="1.3"/>
<line x1="76.90" y1="564.50" x2="76.90" y2="569.10" stroke-width="1.3"/>
<line x1="97.00" y1="653.70" x2="97.00" y2="645.10" stroke-width="1.3"/>
<line x1="97.00" y1="564.50" x2="97.00" y2="573.10" stroke-width="1.3"/>
<line x1="117.10" y1="653.70" x2="117.10" y2="649.10" stroke-width="1.3"/>
<line x1="117.10" y1="564.50" x2="117.10" y2="569.10" stroke-width="1.3"/>
<line x1="137.20" y1="653.70" x2="137.20" y2="649.10" stroke-width="1.3"/>
<line x1="137.20" y1="564.50" x2="137.20" y2="569.10" stroke-width="1.3"/>
<line x1="157.30" y1="653.70" x2="157.30" y2="649.10" stroke-width="1.3"/>
<line x1="157.30" y1="564.50" x2="157.30" y2="569.10" stroke-width="1.3"/>
<line x1="177.40" y1="653.70" x2="177.40" y2="645.10" stroke-width="1.3"/>
<line x1="177.40" y1="564.50" x2="177.40" y2="573.10" stroke-width="1.3"/>
<line x1="197.50" y1="653.70" x2="197.50" y2="649.10" stroke-width="1.3"/>
<line x1="197.50" y1="564.50" x2="197.50" y2="569.10" stroke-width="1.3"/>
<line x1="217.60" y1="653.70" x2="217.60" y2="649.10" stroke-width="1.3"/>
<line x1="217.60" y1="564.50" x2="217.60" y2="569.10" stroke-width="1.3"/>
<line x1="237.70" y1="653.70" x2="237.70" y2="649.10" stroke-width="1.3"/>
<line x1="237.70" y1="564.50" x2="237.70" y2="569.10" stroke-width="1.3"/>
<line x1="44.20" y1="564.40" x2="52.80" y2="564.40" stroke-width="1.3"/>
<line x1="244.90" y1="564.40" x2="236.30" y2="564.40" stroke-width="1.3"/>
<line x1="44.20" y1="569.36" x2="48.80" y2="569.36" stroke-width="1.3"/>
<line x1="244.90" y1="569.36" x2="240.30" y2="569.36" stroke-width="1.3"/>
<line x1="44.20" y1="574.32" x2="48.80" y2="574.32" stroke-width="1.3"/>
<line x1="244.90" y1="574.32" x2="240.30" y2="574.32" stroke-width="1.3"/>
<line x1="44.20" y1="579.28" x2="48.80" y2="579.28" stroke-width="1.3"/>
<line x1="244.90" y1="579.28" x2="240.30" y2="579.28" stroke-width="1.3"/>
<line x1="44.20" y1="584.24" x2="52.80" y2="584.24" stroke-width="1.3"/>
<line x1="244.90" y1="584.24" x2="236.30" y2="584.24" stroke-width="1.3"/>
<line x1="44.20" y1="589.20" x2="48.80" y2="589.20" stroke-width="1.3"/>
<line x1="244.90" y1="589.20" x2="240.30" y2="589.20" stroke-width="1.3"/>
<line x1="44.20" y1="594.16" x2="48.80" y2="594.16" stroke-width="1.3"/>
<line x1="244.90" y1="594.16" x2="240.30" y2="594.16" stroke-width="1.3"/>
<line x1="44.20" y1="599.12" x2="48.80" y2="599.12" stroke-width="1.3"/>
<line x1="244.90" y1="599.12" x2="240.30" y2="599.12" stroke-width="1.3"/>
<line x1="44.20" y1="604.08" x2="52.80" y2="604.08" stroke-width="1.3"/>
<line x1="244.90" y1="604.08" x2="236.30" y2="604.08" stroke-width="1.3"/>
<line x1="44.20" y1="609.04" x2="48.80" y2="609.04" stroke-width="1.3"/>
<line x1="244.90" y1="609.04" x2="240.30" y2="609.04" stroke-width="1.3"/>
<line x1="44.20" y1="614.00" x2="48.80" y2="614.00" stroke-width="1.3"/>
<line x1="244.90" y1="614.00" x2="240.30" y2="614.00" stroke-width="1.3"/>
<line x1="44.20" y1="618.96" x2="48.80" y2="618.96" stroke-width="1.3"/>
<line x1="244.90" y1="618.96" x2="240.30" y2="618.96" stroke-width="1.3"/>
<line x1="44.20" y1="623.92" x2="52.80" y2="623.92" stroke-width="1.3"/>
<line x1="244.90" y1="623.92" x2="236.30" y2="623.92" stroke-width="1.3"/>
<line x1="44.20" y1="628.88" x2="48.80" y2="628.88" stroke-width="1.3"/>
<line x1="244.90" y1="628.88" x2="240.30" y2="628.88" stroke-width="1.3"/>
<line x1="44.20" y1="633.84" x2="48.80" y2="633.84" stroke-width="1.3"/>
<line x1="244.90" y1="633.84" x2="240.30" y2="633.84" stroke-width="1.3"/>
<line x1="44.20" y1="638.80" x2="48.80" y2="638.80" stroke-width="1.3"/>
<line x1="244.90" y1="638.80" x2="240.30" y2="638.80" stroke-width="1.3"/>
<line x1="44.20" y1="643.76" x2="52.80" y2="643.76" stroke-width="1.3"/>
<line x1="244.90" y1="643.76" x2="236.30" y2="643.76" stroke-width="1.3"/>
<line x1="44.20" y1="648.72" x2="48.80" y2="648.72" stroke-width="1.3"/>
<line x1="244.90" y1="648.72" x2="240.30" y2="648.72" stroke-width="1.3"/>
<line x1="44.20" y1="653.68" x2="48.80" y2="653.68" stroke-width="1.3"/>
<line x1="244.90" y1="653.68" x2="240.30" y2="653.68" stroke-width="1.3"/>
</g>
<text x="97.00" y="672.30" text-anchor="middle" stroke="#000" stroke-width="0.45" font-size="14.0" textLength="48.2" lengthAdjust="spacingAndGlyphs">256040</text>
<text x="177.40" y="672.30" text-anchor="middle" stroke="#000" stroke-width="0.45" font-size="14.0" textLength="48.2" lengthAdjust="spacingAndGlyphs">256080</text>
<text x="36.80" y="569.35" text-anchor="end" stroke="#000" stroke-width="0.45" font-size="14.0" textLength="20.5" lengthAdjust="spacingAndGlyphs">0.8</text>
<text x="36.80" y="589.25" text-anchor="end" stroke="#000" stroke-width="0.45" font-size="14.0" textLength="20.5" lengthAdjust="spacingAndGlyphs">0.6</text>
<text x="36.80" y="609.05" text-anchor="end" stroke="#000" stroke-width="0.45" font-size="14.0" textLength="20.5" lengthAdjust="spacingAndGlyphs">0.4</text>
<text x="36.80" y="628.95" text-anchor="end" stroke="#000" stroke-width="0.45" font-size="14.0" textLength="20.5" lengthAdjust="spacingAndGlyphs">0.2</text>
<text x="36.80" y="648.75" text-anchor="end" stroke="#000" stroke-width="0.45" font-size="14.0" textLength="8.0" lengthAdjust="spacingAndGlyphs">0</text>
</g>
<g id="R1">
<clipPath id="cR1"><rect x="307.5" y="6.0" width="200.7" height="89.2"/></clipPath>
<g clip-path="url(#cR1)" fill="none" stroke-linejoin="round">
<path d="M306.8,71.6H308.2V66.6H312.9V67.7H316.2V70.8H320.1V69.7H324.3V76.2H328.3V82.4H332.4V83.1H340.6V84.7H344.3V81.6H348.3V77.4H352.5V79.3H356.3V80.5H360.2V79.6H364.3V79.0H368.3V78.1H372.5V75.4H376.3V60.9H380.4V38.6H384.4V27.8H388.5V29.2H392.5V38.6H400.3V30.5H404.0V27.8H408.0V26.9H412.1V29.2H415.8V31.9H419.6V33.2H423.6V34.6H427.6V36.6H429.0V58.2H432.3V80.1H436.9V82.4H440.8V79.3H444.6V74.4H448.8V72.0H453.1V75.4H457.0V76.5H460.8V77.0H465.1V80.1H468.8V77.7H472.9V72.0H477.0V73.1H480.9V78.5H485.2V81.1H488.9V80.1H493.2V77.7H497.5V82.1H501.2V82.7H504.8V78.5H509.0" stroke="#ff0000" stroke-width="1.49"/>
<path d="M366.30,82.40H367.10V81.32H367.90V79.31H368.70V78.50H369.60V80.19H370.50V81.60H371.50V80.46H372.50V78.50H373.27V79.17H374.03V79.05H374.80V79.30H375.57V78.69H376.33V77.61H377.10V77.00H377.70V74.30H378.40V73.38H379.10V72.40H379.70V64.90H380.40V59.03H381.10V54.10H381.75V48.27H382.40V42.00H383.40V32.50H384.05V29.27H384.70V25.80H385.25V26.89H385.80V28.50H386.35V35.10H386.90V42.00H387.70V44.28H388.50V46.00H389.30V48.63H390.10V51.40H390.80V53.30H391.50V54.10H392.15V58.72H392.80V62.20H393.35V52.51H393.90V42.00H394.45V39.16H395.00V37.30H395.90V38.60H396.90V48.70H397.55V51.59H398.20V55.50H399.10V53.20H400.00V51.40H401.00V48.53H402.00V46.00H403.00V45.60H404.00V44.70H404.90V44.74H405.80V44.00H406.60V43.73H407.40V43.30H408.05V44.82H408.70V46.00H409.50V48.14H410.30V50.10H411.20V52.24H412.10V55.50H412.95V52.83H413.80V50.10H414.45V43.66H415.10V37.90H415.90V35.20H416.50V38.50H417.10V42.00H417.95V44.76H418.80V48.70H419.50V49.79H420.20V50.99H420.90V51.40H421.90V52.23H422.90V54.10H423.55V54.90H424.20V55.50H425.10V50.88H426.00V47.40H426.80V44.52H427.60V42.00H428.15V36.54H428.70V31.90H429.35V32.33H430.00V31.90H430.70V35.87H431.40V39.30H432.05V45.18H432.70V50.10H433.70V69.00H434.35V73.36H435.00V78.40H435.70V80.01H436.40V81.10H437.05V79.64H437.70V77.70H438.50V77.00" stroke="#000000" stroke-width="1.54"/>
</g>
<g stroke="#000" fill="none">
<rect x="307.5" y="6.0" width="200.7" height="89.2" stroke-width="1.5"/>
<line x1="307.84" y1="95.20" x2="307.84" y2="90.60" stroke-width="1.3"/>
<line x1="307.84" y1="6.00" x2="307.84" y2="10.60" stroke-width="1.3"/>
<line x1="327.92" y1="95.20" x2="327.92" y2="90.60" stroke-width="1.3"/>
<line x1="327.92" y1="6.00" x2="327.92" y2="10.60" stroke-width="1.3"/>
<line x1="348.00" y1="95.20" x2="348.00" y2="86.60" stroke-width="1.3"/>
<line x1="348.00" y1="6.00" x2="348.00" y2="14.60" stroke-width="1.3"/>
<line x1="368.08" y1="95.20" x2="368.08" y2="90.60" stroke-width="1.3"/>
<line x1="368.08" y1="6.00" x2="368.08" y2="10.60" stroke-width="1.3"/>
<line x1="388.16" y1="95.20" x2="388.16" y2="90.60" stroke-width="1.3"/>
<line x1="388.16" y1="6.00" x2="388.16" y2="10.60" stroke-width="1.3"/>
<line x1="408.24" y1="95.20" x2="408.24" y2="90.60" stroke-width="1.3"/>
<line x1="408.24" y1="6.00" x2="408.24" y2="10.60" stroke-width="1.3"/>
<line x1="428.32" y1="95.20" x2="428.32" y2="86.60" stroke-width="1.3"/>
<line x1="428.32" y1="6.00" x2="428.32" y2="14.60" stroke-width="1.3"/>
<line x1="448.40" y1="95.20" x2="448.40" y2="90.60" stroke-width="1.3"/>
<line x1="448.40" y1="6.00" x2="448.40" y2="10.60" stroke-width="1.3"/>
<line x1="468.48" y1="95.20" x2="468.48" y2="90.60" stroke-width="1.3"/>
<line x1="468.48" y1="6.00" x2="468.48" y2="10.60" stroke-width="1.3"/>
<line x1="488.56" y1="95.20" x2="488.56" y2="90.60" stroke-width="1.3"/>
<line x1="488.56" y1="6.00" x2="488.56" y2="10.60" stroke-width="1.3"/>
<line x1="307.50" y1="5.80" x2="316.10" y2="5.80" stroke-width="1.3"/>
<line x1="508.20" y1="5.80" x2="499.60" y2="5.80" stroke-width="1.3"/>
<line x1="307.50" y1="13.22" x2="312.10" y2="13.22" stroke-width="1.3"/>
<line x1="508.20" y1="13.22" x2="503.60" y2="13.22" stroke-width="1.3"/>
<line x1="307.50" y1="20.64" x2="312.10" y2="20.64" stroke-width="1.3"/>
<line x1="508.20" y1="20.64" x2="503.60" y2="20.64" stroke-width="1.3"/>
<line x1="307.50" y1="28.06" x2="312.10" y2="28.06" stroke-width="1.3"/>
<line x1="508.20" y1="28.06" x2="503.60" y2="28.06" stroke-width="1.3"/>
<line x1="307.50" y1="35.48" x2="312.10" y2="35.48" stroke-width="1.3"/>
<line x1="508.20" y1="35.48" x2="503.60" y2="35.48" stroke-width="1.3"/>
<line x1="307.50" y1="42.90" x2="316.10" y2="42.90" stroke-width="1.3"/>
<line x1="508.20" y1="42.90" x2="499.60" y2="42.90" stroke-width="1.3"/>
<line x1="307.50" y1="50.32" x2="312.10" y2="50.32" stroke-width="1.3"/>
<line x1="508.20" y1="50.32" x2="503.60" y2="50.32" stroke-width="1.3"/>
<line x1="307.50" y1="57.74" x2="312.10" y2="57.74" stroke-width="1.3"/>
<line x1="508.20" y1="57.74" x2="503.60" y2="57.74" stroke-width="1.3"/>
<line x1="307.50" y1="65.16" x2="312.10" y2="65.16" stroke-width="1.3"/>
<line x1="508.20" y1="65.16" x2="503.60" y2="65.16" stroke-width="1.3"/>
<line x1="307.50" y1="72.58" x2="312.10" y2="72.58" stroke-width="1.3"/>
<line x1="508.20" y1="72.58" x2="503.60" y2="72.58" stroke-width="1.3"/>
<line x1="307.50" y1="80.00" x2="316.10" y2="80.00" stroke-width="1.3"/>
<line x1="508.20" y1="80.00" x2="499.60" y2="80.00" stroke-width="1.3"/>
<line x1="307.50" y1="87.42" x2="312.10" y2="87.42" stroke-width="1.3"/>
<line x1="508.20" y1="87.42" x2="503.60" y2="87.42" stroke-width="1.3"/>
<line x1="307.50" y1="94.84" x2="312.10" y2="94.84" stroke-width="1.3"/>
<line x1="508.20" y1="94.84" x2="503.60" y2="94.84" stroke-width="1.3"/>
</g>
<text x="348.00" y="113.80" text-anchor="middle" stroke="#000" stroke-width="0.3" font-size="14.0" textLength="48.2" lengthAdjust="spacingAndGlyphs">270240</text>
<text x="428.30" y="113.80" text-anchor="middle" stroke="#000" stroke-width="0.3" font-size="14.0" textLength="48.2" lengthAdjust="spacingAndGlyphs">270280</text>
<text x="300.10" y="10.75" text-anchor="end" stroke="#000" stroke-width="0.3" font-size="14.0" textLength="8.0" lengthAdjust="spacingAndGlyphs">1</text>
<text x="300.10" y="47.85" text-anchor="end" stroke="#000" stroke-width="0.3" font-size="14.0" textLength="20.5" lengthAdjust="spacingAndGlyphs">0.5</text>
<text x="300.10" y="84.95" text-anchor="end" stroke="#000" stroke-width="0.3" font-size="14.0" textLength="8.0" lengthAdjust="spacingAndGlyphs">0</text>
</g>
<g id="R2">
<clipPath id="cR2"><rect x="307.5" y="117.7" width="200.7" height="89.2"/></clipPath>
<g clip-path="url(#cR2)" fill="none" stroke-linejoin="round">
<path d="M306.8,184.7H308.2V190.4H312.4V200.1H316.6V190.8H320.6V176.2H324.3V175.1H328.3V177.7H332.4V190.8H336.3V202.1H340.6V189.3H344.3V185.5H348.3V187.8H352.5V181.6H356.3V185.5H360.2V187.0H364.3V185.1H368.7V173.1H372.5V174.7H376.5V200.6H384.4V172.6H388.5V147.4H392.5V160.5H396.6V163.9H400.6V158.5H404.0V153.3H408.0V143.0H412.1V145.7H415.5V151.0H420.2V167.2H429.0V177.3H432.3V188.5H437.0V172.5H441.0V163.7H444.6V167.3H449.3V167.6H453.1V150.7H457.0V155.8H460.8V164.6H464.7V162.4H468.5V169.6H472.9V161.5H477.0V167.3H480.9V179.7H484.7V177.3H489.3V176.6H493.2V182.7H497.1V175.0H501.2V167.6H505.5V172.0H509.0" stroke="#ff0000" stroke-width="1.22"/>
<path d="M380.00,183.00H380.85V181.47H381.70V179.50H382.70V177.39H383.70V175.50H384.35V172.51H385.00V168.80H385.70V165.41H386.40V163.72H387.10V160.70H388.10V159.15H389.10V158.00H390.10V160.87H391.10V163.40H391.80V158.12H392.50V153.90H393.15V156.35H393.80V159.30H394.50V159.63H395.20V160.70H395.85V157.73H396.50V155.30H397.20V158.66H397.90V161.30H398.90V161.96H399.90V162.70H400.90V161.74H401.90V159.30H402.90V157.43H403.90V155.30H404.90V152.16H405.90V149.90H406.60V146.68H407.30V143.10H407.95V139.09H408.60V135.00H409.30V132.78H410.00V131.70H410.90V137.70H411.80V138.44H412.70V139.10H413.35V140.02H414.00V142.50H414.90V141.25H415.80V140.40H416.60V143.16H417.40V145.80H418.40V147.80H419.40V149.20H420.10V151.07H420.80V151.65H421.50V152.60H422.50V153.19H423.50V155.30H424.15V153.91H424.80V152.60H425.80V156.60H426.35V160.95H426.90V166.10H427.55V170.55H428.20V174.20H428.90V177.48H429.60V179.50H430.25V180.54H430.90V182.90H431.90V184.33H432.90V184.90H433.90V185.27H434.90V186.30" stroke="#000000" stroke-width="0.99"/>
<path d="M307.00,184.70H307.77V183.23H308.55V182.87H309.33V181.64H310.10V181.60H310.88V182.12H311.65V183.30H312.43V184.27H313.20V184.70H313.97V183.73H314.73V183.59H315.50V182.78H316.27V183.92H317.03V182.29H317.80V182.40H318.57V183.89H319.35V182.53H320.12V182.95H320.90V184.70H321.67V184.52H322.45V184.51H323.23V185.31H324.00V184.70H324.75V185.58H325.50V184.73H326.25V184.22H327.00V184.70H327.78V185.74H328.57V185.64H329.35V185.67H330.13V186.34H330.92V186.08H331.70V187.80H332.45V184.45H333.20V180.10H333.98V180.73H334.75V182.80H335.52V185.56H336.30V187.00H337.07V186.51H337.85V185.74H338.62V185.00H339.40V183.90H340.17V185.40H340.95V186.52H341.73V187.35H342.50V187.00H343.25V185.18H344.00V183.54H344.75V181.48H345.50V180.80H346.27V181.61H347.05V181.96H347.83V184.77H348.60V184.70H349.37V184.79H350.13V183.03H350.90V183.61H351.67V183.11H352.43V181.15H353.20V181.60H353.98V182.54H354.75V182.56H355.52V182.13H356.30V182.40H357.10V181.52H357.90V178.50H358.65V175.96H359.40V175.40H360.20V175.83H361.00V178.50H361.75V182.14H362.50V184.70H363.25V187.40H364.00V189.30H364.77V186.96H365.55V187.25H366.33V186.07H367.10V184.70H367.87V184.14H368.63V183.27H369.40V184.66H370.17V184.57H370.93V183.50H371.70V183.10H372.48V183.41H373.25V185.15H374.02V186.38H374.80V187.00H375.60V188.19H376.40V189.30H377.15V188.48H377.90V186.20H378.65V182.84H379.40V180.80H380.25V179.97H381.10V177.30H381.77V176.49H382.43V173.75H383.10V173.30H383.75V168.96H384.40V166.60H385.10V164.57H385.80V160.79H386.50V158.50H387.17V158.56H387.83V157.74H388.50V155.80H389.17V157.07H389.83V159.98H390.50V161.20H391.20V155.77H391.90V151.70H392.55V154.40H393.20V157.10H393.90V157.05H394.60V158.50H395.25V156.52H395.90V153.10H396.60V155.24H397.30V159.10H397.97V160.57H398.63V159.70H399.30V160.50H399.97V158.85H400.63V157.13H401.30V157.10H401.97V155.07H402.63V153.39H403.30V153.10H403.97V150.63H404.63V150.65H405.30V147.70H406.00V144.67H406.70V140.90H407.35V135.93H408.00V132.80H408.70V130.21H409.40V129.50H409.85V132.40H410.30V135.50H410.90V136.87H411.50V136.32H412.10V136.90H412.75V138.26H413.40V140.30H414.00V140.00H414.60V138.00H415.20V138.20H416.00V140.14H416.80V143.60H417.47V144.81H418.13V146.67H418.80V147.00H419.50V148.04H420.20V148.76H420.90V150.40H421.57V151.39H422.23V152.92H422.90V153.10H423.55V151.05H424.20V150.40H424.70V151.56H425.20V154.40H425.75V159.15H426.30V163.90H426.95V167.57H427.60V172.00H428.30V173.80H429.00V177.30H429.65V178.31H430.30V180.70H430.97V182.24H431.63V181.32H432.30V182.70H432.97V182.78H433.63V184.70H434.30V184.10H435.00V182.89H435.70V183.36H436.40V181.40H437.07V181.08H437.73V179.08H438.40V178.00H439.07V178.14H439.73V177.31H440.40V178.70H441.07V178.86H441.75V179.61H442.43V181.14H443.10V180.40H443.87V178.12H444.63V178.65H445.40V176.60H446.17V177.43H446.93V176.99H447.70V175.85H448.47V175.97H449.23V174.92H450.00V175.00H450.80V173.10H451.60V173.26H452.40V172.70H453.15V171.74H453.90V169.60H454.65V170.96H455.40V174.30H456.17V173.98H456.93V172.71H457.70V173.50H458.50V174.69H459.30V178.45H460.10V179.70H460.87V177.30H461.63V177.40H462.40V175.80H463.16V175.09H463.92V174.95H464.68V176.37H465.44V175.02H466.20V175.00H466.97V176.45H467.73V178.55H468.50V178.90H469.28V179.28H470.07V178.01H470.85V178.47H471.63V179.68H472.42V178.44H473.20V178.90H473.95V178.33H474.70V179.17H475.45V179.50H476.20V180.40H476.98V180.76H477.75V180.35H478.52V182.42H479.30V182.00H480.07V183.33H480.85V181.64H481.62V182.60H482.40V182.70H483.17V181.88H483.95V182.69H484.73V181.63H485.50V182.00H486.27V180.60H487.05V180.44H487.83V180.25H488.60V181.20H489.38V180.33H490.15V180.98H490.93V180.03H491.70V179.70H492.47V178.59H493.23V177.29H494.00V177.30H494.75V179.37H495.50V179.70H496.27V181.74H497.03V180.83H497.80V182.70H498.57V182.96H499.35V183.77H500.12V184.13H500.90V185.10H501.67V183.88H502.45V185.29H503.23V184.67H504.00V184.30H504.90V183.60H505.80V184.04H506.70V186.12H507.60V185.98H508.50V186.60" stroke="#000000" stroke-width="1.26"/>
</g>
<g stroke="#000" fill="none">
<rect x="307.5" y="117.7" width="200.7" height="89.2" stroke-width="1.1"/>
<line x1="314.70" y1="206.90" x2="314.70" y2="202.30" stroke-width="1.0"/>
<line x1="314.70" y1="117.70" x2="314.70" y2="122.30" stroke-width="1.0"/>
<line x1="334.80" y1="206.90" x2="334.80" y2="198.30" stroke-width="1.0"/>
<line x1="334.80" y1="117.70" x2="334.80" y2="126.30" stroke-width="1.0"/>
<line x1="354.90" y1="206.90" x2="354.90" y2="202.30" stroke-width="1.0"/>
<line x1="354.90" y1="117.70" x2="354.90" y2="122.30" stroke-width="1.0"/>
<line x1="375.00" y1="206.90" x2="375.00" y2="202.30" stroke-width="1.0"/>
<line x1="375.00" y1="117.70" x2="375.00" y2="122.30" stroke-width="1.0"/>
<line x1="395.10" y1="206.90" x2="395.10" y2="202.30" stroke-width="1.0"/>
<line x1="395.10" y1="117.70" x2="395.10" y2="122.30" stroke-width="1.0"/>
<line x1="415.20" y1="206.90" x2="415.20" y2="198.30" stroke-width="1.0"/>
<line x1="415.20" y1="117.70" x2="415.20" y2="126.30" stroke-width="1.0"/>
<line x1="435.30" y1="206.90" x2="435.30" y2="202.30" stroke-width="1.0"/>
<line x1="435.30" y1="117.70" x2="435.30" y2="122.30" stroke-width="1.0"/>
<line x1="455.40" y1="206.90" x2="455.40" y2="202.30" stroke-width="1.0"/>
<line x1="455.40" y1="117.70" x2="455.40" y2="122.30" stroke-width="1.0"/>
<line x1="475.50" y1="206.90" x2="475.50" y2="202.30" stroke-width="1.0"/>
<line x1="475.50" y1="117.70" x2="475.50" y2="122.30" stroke-width="1.0"/>
<line x1="495.60" y1="206.90" x2="495.60" y2="198.30" stroke-width="1.0"/>
<line x1="495.60" y1="117.70" x2="495.60" y2="126.30" stroke-width="1.0"/>
<line x1="307.50" y1="117.80" x2="316.10" y2="117.80" stroke-width="1.0"/>
<line x1="508.20" y1="117.80" x2="499.60" y2="117.80" stroke-width="1.0"/>
<line x1="307.50" y1="123.35" x2="312.10" y2="123.35" stroke-width="1.0"/>
<line x1="508.20" y1="123.35" x2="503.60" y2="123.35" stroke-width="1.0"/>
<line x1="307.50" y1="128.90" x2="312.10" y2="128.90" stroke-width="1.0"/>
<line x1="508.20" y1="128.90" x2="503.60" y2="128.90" stroke-width="1.0"/>
<line x1="307.50" y1="134.45" x2="312.10" y2="134.45" stroke-width="1.0"/>
<line x1="508.20" y1="134.45" x2="503.60" y2="134.45" stroke-width="1.0"/>
<line x1="307.50" y1="140.00" x2="316.10" y2="140.00" stroke-width="1.0"/>
<line x1="508.20" y1="140.00" x2="499.60" y2="140.00" stroke-width="1.0"/>
<line x1="307.50" y1="145.55" x2="312.10" y2="145.55" stroke-width="1.0"/>
<line x1="508.20" y1="145.55" x2="503.60" y2="145.55" stroke-width="1.0"/>
<line x1="307.50" y1="151.10" x2="312.10" y2="151.10" stroke-width="1.0"/>
<line x1="508.20" y1="151.10" x2="503.60" y2="151.10" stroke-width="1.0"/>
<line x1="307.50" y1="156.65" x2="312.10" y2="156.65" stroke-width="1.0"/>
<line x1="508.20" y1="156.65" x2="503.60" y2="156.65" stroke-width="1.0"/>
<line x1="307.50" y1="162.20" x2="316.10" y2="162.20" stroke-width="1.0"/>
<line x1="508.20" y1="162.20" x2="499.60" y2="162.20" stroke-width="1.0"/>
<line x1="307.50" y1="167.75" x2="312.10" y2="167.75" stroke-width="1.0"/>
<line x1="508.20" y1="167.75" x2="503.60" y2="167.75" stroke-width="1.0"/>
<line x1="307.50" y1="173.30" x2="312.10" y2="173.30" stroke-width="1.0"/>
<line x1="508.20" y1="173.30" x2="503.60" y2="173.30" stroke-width="1.0"/>
<line x1="307.50" y1="178.85" x2="312.10" y2="178.85" stroke-width="1.0"/>
<line x1="508.20" y1="178.85" x2="503.60" y2="178.85" stroke-width="1.0"/>
<line x1="307.50" y1="184.40" x2="316.10" y2="184.40" stroke-width="1.0"/>
<line x1="508.20" y1="184.40" x2="499.60" y2="184.40" stroke-width="1.0"/>
<line x1="307.50" y1="189.95" x2="312.10" y2="189.95" stroke-width="1.0"/>
<line x1="508.20" y1="189.95" x2="503.60" y2="189.95" stroke-width="1.0"/>
<line x1="307.50" y1="195.50" x2="312.10" y2="195.50" stroke-width="1.0"/>
<line x1="508.20" y1="195.50" x2="503.60" y2="195.50" stroke-width="1.0"/>
<line x1="307.50" y1="201.05" x2="312.10" y2="201.05" stroke-width="1.0"/>
<line x1="508.20" y1="201.05" x2="503.60" y2="201.05" stroke-width="1.0"/>
<line x1="307.50" y1="206.60" x2="316.10" y2="206.60" stroke-width="1.0"/>
<line x1="508.20" y1="206.60" x2="499.60" y2="206.60" stroke-width="1.0"/>
</g>
<text x="334.80" y="225.50" text-anchor="middle" stroke="#000" stroke-width="0.1" font-size="14.0" textLength="48.2" lengthAdjust="spacingAndGlyphs">260880</text>
<text x="415.20" y="225.50" text-anchor="middle" stroke="#000" stroke-width="0.1" font-size="14.0" textLength="48.2" lengthAdjust="spacingAndGlyphs">260920</text>
<text x="495.60" y="225.50" text-anchor="middle" stroke="#000" stroke-width="0.1" font-size="14.0" textLength="48.2" lengthAdjust="spacingAndGlyphs">260960</text>
<text x="300.10" y="122.75" text-anchor="end" stroke="#000" stroke-width="0.1" font-size="14.0" textLength="20.5" lengthAdjust="spacingAndGlyphs">0.6</text>
<text x="300.10" y="144.95" text-anchor="end" stroke="#000" stroke-width="0.1" font-size="14.0" textLength="20.5" lengthAdjust="spacingAndGlyphs">0.4</text>
<text x="300.10" y="167.15" text-anchor="end" stroke="#000" stroke-width="0.1" font-size="14.0" textLength="20.5" lengthAdjust="spacingAndGlyphs">0.2</text>
<text x="300.10" y="189.25" text-anchor="end" stroke="#000" stroke-width="0.1" font-size="14.0" textLength="8.0" lengthAdjust="spacingAndGlyphs">0</text>
<text x="300.10" y="211.45" text-anchor="end" stroke="#000" stroke-width="0.1" font-size="14.0" textLength="20.5" lengthAdjust="spacingAndGlyphs">0.2</text>
<line x1="270.04" y1="206.90" x2="277.94" y2="206.90" stroke="#000" stroke-width="1.26"/>
</g>
<g id="R3">
<clipPath id="cR3"><rect x="307.5" y="229.4" width="200.7" height="89.2"/></clipPath>
<g clip-path="url(#cR3)" fill="none" stroke-linejoin="round">
<path d="M306.8,308.6H309.3V305.0H313.2V303.5H317.0V309.4H321.2V314.0H329.4V311.7H333.5V310.6H337.5V311.2H341.2V313.2H345.5V314.3H349.4V311.7H353.6V308.6H357.9V304.7H361.7V293.6H365.9V280.8H370.2V276.7H374.1V277.0H377.9V283.2H381.6V290.0H389.6V288.2H393.1V285.9H397.3V282.0H401.3V267.4H405.4V245.5H413.1V261.2H417.8V273.5H421.6V279.7H425.9V275.8H429.6V264.3H433.6V252.3H437.3V248.9H441.3V245.0H453.7V270.4H457.6V302.7H461.6V309.5H465.0V311.5H469.7V315.5H473.7V316.2H477.1V314.2H481.8V312.2H486.5V312.8H491.3V310.8H495.3V310.1H502.0V312.8H509.0" stroke="#ff0000" stroke-width="1.49"/>
<path d="M353.20,307.10H354.00V306.80H354.80V306.87H355.60V306.30H356.37V305.16H357.13V304.59H357.90V304.00H358.67V302.57H359.43V300.53H360.20V298.60H360.95V295.20H361.70V292.40H362.50V287.68H363.30V283.20H364.05V278.85H364.80V273.90H365.55V269.25H366.30V264.70H367.10V262.26H367.90V260.88H368.70V258.50H369.60V255.10H370.50V252.30H371.10V250.11H371.70V247.70H372.65V248.20H373.60V248.50H374.60V249.62H375.60V250.80H376.35V250.02H377.10V248.50H377.90V248.99H378.70V250.00H379.45V253.58H380.20V257.00H380.85V261.89H381.50V267.40H382.30V273.92H383.10V279.70H383.85V283.27H384.60V287.40H385.37V288.44H386.13V289.73H386.90V290.50H387.67V290.54H388.43V289.64H389.20V289.70H390.15V288.45H391.10V286.60H392.10V289.97H393.10V292.80H393.87V293.69H394.63V295.07H395.40V295.90H396.20V296.83H397.00V298.20H397.75V294.82H398.50V292.00H399.25V288.68H400.00V285.90H400.80V285.48H401.60V285.63H402.40V285.10H403.17V284.30H403.93V283.96H404.70V282.80H405.47V281.05H406.23V278.44H407.00V276.60H407.77V274.51H408.53V272.18H409.30V270.50H410.05V270.17H410.80V269.70H411.60V272.84H412.40V275.80H413.30V273.57H414.20V271.20H415.00V271.67H415.80V272.80H416.80V270.19H417.80V267.40H418.55V268.99H419.30V271.20H420.05V274.97H420.80V278.20H421.60V282.02H422.40V285.90H423.40V288.28H424.40V291.30H425.30V295.13H426.20V298.20H427.00V295.46H427.80V292.00H428.55V286.47H429.30V281.20H430.07V278.48H430.83V274.89H431.60V272.00H432.37V268.93H433.13V265.86H433.90V262.70H434.70V260.13H435.50V256.76H436.30V254.30H437.30V251.58H438.30V249.60H439.17V248.32H440.03V247.51H440.90V246.60H441.67V246.84H442.43V246.78H443.20V246.60H443.95V249.34H444.70V252.70H445.65V257.54H446.60V262.00H447.43V263.02H448.27V264.15H449.10V265.80H449.80V267.58H450.50V269.73H451.20V271.20H452.20V275.77H453.20V279.70H453.97V283.25H454.73V287.14H455.50V290.50H456.27V293.32H457.03V296.36H457.80V299.70H458.53V302.63H459.27V304.97H460.00V307.40H460.80V309.19H461.60V311.50H462.40V312.87H463.20V314.50" stroke="#000000" stroke-width="1.54"/>
</g>
<g stroke="#000" fill="none">
<rect x="307.5" y="229.4" width="200.7" height="89.2" stroke-width="1.5"/>
<line x1="309.20" y1="318.60" x2="309.20" y2="314.00" stroke-width="1.3"/>
<line x1="309.20" y1="229.40" x2="309.20" y2="234.00" stroke-width="1.3"/>
<line x1="329.30" y1="318.60" x2="329.30" y2="310.00" stroke-width="1.3"/>
<line x1="329.30" y1="229.40" x2="329.30" y2="238.00" stroke-width="1.3"/>
<line x1="349.40" y1="318.60" x2="349.40" y2="314.00" stroke-width="1.3"/>
<line x1="349.40" y1="229.40" x2="349.40" y2="234.00" stroke-width="1.3"/>
<line x1="369.50" y1="318.60" x2="369.50" y2="314.00" stroke-width="1.3"/>
<line x1="369.50" y1="229.40" x2="369.50" y2="234.00" stroke-width="1.3"/>
<line x1="389.60" y1="318.60" x2="389.60" y2="314.00" stroke-width="1.3"/>
<line x1="389.60" y1="229.40" x2="389.60" y2="234.00" stroke-width="1.3"/>
<line x1="409.70" y1="318.60" x2="409.70" y2="310.00" stroke-width="1.3"/>
<line x1="409.70" y1="229.40" x2="409.70" y2="238.00" stroke-width="1.3"/>
<line x1="429.80" y1="318.60" x2="429.80" y2="314.00" stroke-width="1.3"/>
<line x1="429.80" y1="229.40" x2="429.80" y2="234.00" stroke-width="1.3"/>
<line x1="449.90" y1="318.60" x2="449.90" y2="314.00" stroke-width="1.3"/>
<line x1="449.90" y1="229.40" x2="449.90" y2="234.00" stroke-width="1.3"/>
<line x1="470.00" y1="318.60" x2="470.00" y2="314.00" stroke-width="1.3"/>
<line x1="470.00" y1="229.40" x2="470.00" y2="234.00" stroke-width="1.3"/>
<line x1="490.10" y1="318.60" x2="490.10" y2="310.00" stroke-width="1.3"/>
<line x1="490.10" y1="229.40" x2="490.10" y2="238.00" stroke-width="1.3"/>
<line x1="307.50" y1="229.14" x2="312.10" y2="229.14" stroke-width="1.3"/>
<line x1="508.20" y1="229.14" x2="503.60" y2="229.14" stroke-width="1.3"/>
<line x1="307.50" y1="236.02" x2="312.10" y2="236.02" stroke-width="1.3"/>
<line x1="508.20" y1="236.02" x2="503.60" y2="236.02" stroke-width="1.3"/>
<line x1="307.50" y1="242.90" x2="316.10" y2="242.90" stroke-width="1.3"/>
<line x1="508.20" y1="242.90" x2="499.60" y2="242.90" stroke-width="1.3"/>
<line x1="307.50" y1="249.78" x2="312.10" y2="249.78" stroke-width="1.3"/>
<line x1="508.20" y1="249.78" x2="503.60" y2="249.78" stroke-width="1.3"/>
<line x1="307.50" y1="256.66" x2="312.10" y2="256.66" stroke-width="1.3"/>
<line x1="508.20" y1="256.66" x2="503.60" y2="256.66" stroke-width="1.3"/>
<line x1="307.50" y1="263.54" x2="312.10" y2="263.54" stroke-width="1.3"/>
<line x1="508.20" y1="263.54" x2="503.60" y2="263.54" stroke-width="1.3"/>
<line x1="307.50" y1="270.42" x2="312.10" y2="270.42" stroke-width="1.3"/>
<line x1="508.20" y1="270.42" x2="503.60" y2="270.42" stroke-width="1.3"/>
<line x1="307.50" y1="277.30" x2="316.10" y2="277.30" stroke-width="1.3"/>
<line x1="508.20" y1="277.30" x2="499.60" y2="277.30" stroke-width="1.3"/>
<line x1="307.50" y1="284.18" x2="312.10" y2="284.18" stroke-width="1.3"/>
<line x1="508.20" y1="284.18" x2="503.60" y2="284.18" stroke-width="1.3"/>
<line x1="307.50" y1="291.06" x2="312.10" y2="291.06" stroke-width="1.3"/>
<line x1="508.20" y1="291.06" x2="503.60" y2="291.06" stroke-width="1.3"/>
<line x1="307.50" y1="297.94" x2="312.10" y2="297.94" stroke-width="1.3"/>
<line x1="508.20" y1="297.94" x2="503.60" y2="297.94" stroke-width="1.3"/>
<line x1="307.50" y1="304.82" x2="312.10" y2="304.82" stroke-width="1.3"/>
<line x1="508.20" y1="304.82" x2="503.60" y2="304.82" stroke-width="1.3"/>
<line x1="307.50" y1="311.70" x2="316.10" y2="311.70" stroke-width="1.3"/>
<line x1="508.20" y1="311.70" x2="499.60" y2="311.70" stroke-width="1.3"/>
<line x1="307.50" y1="318.58" x2="312.10" y2="318.58" stroke-width="1.3"/>
<line x1="508.20" y1="318.58" x2="503.60" y2="318.58" stroke-width="1.3"/>
</g>
<text x="329.30" y="337.20" text-anchor="middle" stroke="#000" stroke-width="0.32" font-size="14.0" textLength="48.2" lengthAdjust="spacingAndGlyphs">268520</text>
<text x="409.70" y="337.20" text-anchor="middle" stroke="#000" stroke-width="0.32" font-size="14.0" textLength="48.2" lengthAdjust="spacingAndGlyphs">268560</text>
<text x="490.10" y="337.20" text-anchor="middle" stroke="#000" stroke-width="0.32" font-size="14.0" textLength="48.2" lengthAdjust="spacingAndGlyphs">268600</text>
<text x="300.10" y="247.85" text-anchor="end" stroke="#000" stroke-width="0.32" font-size="14.0" textLength="8.0" lengthAdjust="spacingAndGlyphs">1</text>
<text x="300.10" y="282.25" text-anchor="end" stroke="#000" stroke-width="0.32" font-size="14.0" textLength="20.5" lengthAdjust="spacingAndGlyphs">0.5</text>
<text x="300.10" y="316.65" text-anchor="end" stroke="#000" stroke-width="0.32" font-size="14.0" textLength="8.0" lengthAdjust="spacingAndGlyphs">0</text>
</g>
<g id="R4">
<clipPath id="cR4"><rect x="307.5" y="341.1" width="200.7" height="89.2"/></clipPath>
<g clip-path="url(#cR4)" fill="none" stroke-linejoin="round">
<path d="M306.8,422.4H309.3V426.3H313.2V428.3H317.5V425.8H321.6V412.4H325.5V414.4H329.8V434.0H337.1V411.3H341.2V383.6H345.2V398.1H349.4V402.1H353.2V395.9H357.6V389.3H361.7V377.7H365.6V381.1H369.9V387.3H373.6V405.5H381.6V421.6H385.4V429.3H389.6V410.4H393.6V401.6H397.7V405.1H401.6V406.2H405.9V386.2H409.3V392.4H413.1V402.4H417.8V403.1H421.6V409.3H425.9V398.1H429.6V405.8H433.6V419.0H437.8V416.6H441.7V415.5H445.5V423.2H449.4V413.8H453.5V405.4H457.5V410.3H461.6V408.1H466.3V422.5H470.3V423.8H474.4V415.7H478.4V425.6H482.5V421.1H489.9V434.0H494.0V427.5H498.7V434.0H509.0" stroke="#ff0000" stroke-width="1.49"/>
<path d="M393.10,396.20H393.65V400.71H394.20V405.50H394.80V404.78H395.40V404.70H396.20V402.75H397.00V401.60H397.75V401.35H398.50V400.10H399.25V401.34H400.00V402.40H400.80V401.83H401.60V400.80H402.35V400.11H403.10V399.30H403.75V397.21H404.40V395.40H405.40V390.00H405.95V388.38H406.50V386.20H407.10V387.44H407.70V388.50H408.50V398.50H409.30V399.24H410.10V399.30H410.85V400.24H411.60V400.80H412.15V399.31H412.70V397.00H413.30V398.08H413.90V399.30H414.50V396.94H415.10V395.40H415.90V395.38H416.70V396.20H417.45V393.02H418.20V389.30H419.00V390.05H419.80V391.60H420.80V397.70H421.60V402.54H422.40V407.00H423.15V408.29H423.90V409.30H424.45V405.32H425.00V402.40H425.60V402.34H426.20V401.60H426.85V403.74H427.50V407.00H428.25V410.89H429.00V413.90H429.55V412.41H430.10V410.10H430.85V407.46H431.60V405.50H432.15V406.52H432.70V407.00" stroke="#000000" stroke-width="1.54"/>
</g>
<g stroke="#000" fill="none">
<rect x="307.5" y="341.1" width="200.7" height="89.2" stroke-width="1.5"/>
<line x1="307.85" y1="430.30" x2="307.85" y2="425.70" stroke-width="1.3"/>
<line x1="307.85" y1="341.10" x2="307.85" y2="345.70" stroke-width="1.3"/>
<line x1="327.90" y1="430.30" x2="327.90" y2="425.70" stroke-width="1.3"/>
<line x1="327.90" y1="341.10" x2="327.90" y2="345.70" stroke-width="1.3"/>
<line x1="347.95" y1="430.30" x2="347.95" y2="425.70" stroke-width="1.3"/>
<line x1="347.95" y1="341.10" x2="347.95" y2="345.70" stroke-width="1.3"/>
<line x1="368.00" y1="430.30" x2="368.00" y2="421.70" stroke-width="1.3"/>
<line x1="368.00" y1="341.10" x2="368.00" y2="349.70" stroke-width="1.3"/>
<line x1="388.05" y1="430.30" x2="388.05" y2="425.70" stroke-width="1.3"/>
<line x1="388.05" y1="341.10" x2="388.05" y2="345.70" stroke-width="1.3"/>
<line x1="408.10" y1="430.30" x2="408.10" y2="425.70" stroke-width="1.3"/>
<line x1="408.10" y1="341.10" x2="408.10" y2="345.70" stroke-width="1.3"/>
<line x1="428.15" y1="430.30" x2="428.15" y2="425.70" stroke-width="1.3"/>
<line x1="428.15" y1="341.10" x2="428.15" y2="345.70" stroke-width="1.3"/>
<line x1="448.20" y1="430.30" x2="448.20" y2="421.70" stroke-width="1.3"/>
<line x1="448.20" y1="341.10" x2="448.20" y2="349.70" stroke-width="1.3"/>
<line x1="468.25" y1="430.30" x2="468.25" y2="425.70" stroke-width="1.3"/>
<line x1="468.25" y1="341.10" x2="468.25" y2="345.70" stroke-width="1.3"/>
<line x1="488.30" y1="430.30" x2="488.30" y2="425.70" stroke-width="1.3"/>
<line x1="488.30" y1="341.10" x2="488.30" y2="345.70" stroke-width="1.3"/>
<line x1="508.35" y1="430.30" x2="508.35" y2="425.70" stroke-width="1.3"/>
<line x1="508.35" y1="341.10" x2="508.35" y2="345.70" stroke-width="1.3"/>
<line x1="307.50" y1="347.25" x2="312.10" y2="347.25" stroke-width="1.3"/>
<line x1="508.20" y1="347.25" x2="503.60" y2="347.25" stroke-width="1.3"/>
<line x1="307.50" y1="354.12" x2="312.10" y2="354.12" stroke-width="1.3"/>
<line x1="508.20" y1="354.12" x2="503.60" y2="354.12" stroke-width="1.3"/>
<line x1="307.50" y1="361.00" x2="316.10" y2="361.00" stroke-width="1.3"/>
<line x1="508.20" y1="361.00" x2="499.60" y2="361.00" stroke-width="1.3"/>
<line x1="307.50" y1="367.88" x2="312.10" y2="367.88" stroke-width="1.3"/>
<line x1="508.20" y1="367.88" x2="503.60" y2="367.88" stroke-width="1.3"/>
<line x1="307.50" y1="374.75" x2="312.10" y2="374.75" stroke-width="1.3"/>
<line x1="508.20" y1="374.75" x2="503.60" y2="374.75" stroke-width="1.3"/>
<line x1="307.50" y1="381.62" x2="312.10" y2="381.62" stroke-width="1.3"/>
<line x1="508.20" y1="381.62" x2="503.60" y2="381.62" stroke-width="1.3"/>
<line x1="307.50" y1="388.50" x2="316.10" y2="388.50" stroke-width="1.3"/>
<line x1="508.20" y1="388.50" x2="499.60" y2="388.50" stroke-width="1.3"/>
<line x1="307.50" y1="395.38" x2="312.10" y2="395.38" stroke-width="1.3"/>
<line x1="508.20" y1="395.38" x2="503.60" y2="395.38" stroke-width="1.3"/>
<line x1="307.50" y1="402.25" x2="312.10" y2="402.25" stroke-width="1.3"/>
<line x1="508.20" y1="402.25" x2="503.60" y2="402.25" stroke-width="1.3"/>
<line x1="307.50" y1="409.12" x2="312.10" y2="409.12" stroke-width="1.3"/>
<line x1="508.20" y1="409.12" x2="503.60" y2="409.12" stroke-width="1.3"/>
<line x1="307.50" y1="416.00" x2="316.10" y2="416.00" stroke-width="1.3"/>
<line x1="508.20" y1="416.00" x2="499.60" y2="416.00" stroke-width="1.3"/>
<line x1="307.50" y1="422.88" x2="312.10" y2="422.88" stroke-width="1.3"/>
<line x1="508.20" y1="422.88" x2="503.60" y2="422.88" stroke-width="1.3"/>
<line x1="307.50" y1="429.75" x2="312.10" y2="429.75" stroke-width="1.3"/>
<line x1="508.20" y1="429.75" x2="503.60" y2="429.75" stroke-width="1.3"/>
</g>
<text x="368.00" y="448.90" text-anchor="middle" stroke="#000" stroke-width="0.32" font-size="14.0" textLength="48.2" lengthAdjust="spacingAndGlyphs">260920</text>
<text x="448.20" y="448.90" text-anchor="middle" stroke="#000" stroke-width="0.32" font-size="14.0" textLength="48.2" lengthAdjust="spacingAndGlyphs">260960</text>
<text x="300.10" y="365.95" text-anchor="end" stroke="#000" stroke-width="0.32" font-size="14.0" textLength="20.5" lengthAdjust="spacingAndGlyphs">0.4</text>
<text x="300.10" y="393.45" text-anchor="end" stroke="#000" stroke-width="0.32" font-size="14.0" textLength="20.5" lengthAdjust="spacingAndGlyphs">0.2</text>
<text x="300.10" y="420.95" text-anchor="end" stroke="#000" stroke-width="0.32" font-size="14.0" textLength="8.0" lengthAdjust="spacingAndGlyphs">0</text>
</g>
<g id="R5">
<clipPath id="cR5"><rect x="307.5" y="452.8" width="200.7" height="89.2"/></clipPath>
<g clip-path="url(#cR5)" fill="none" stroke-linejoin="round">
<path d="M306.8,525.5H309.3V531.6H312.4V537.0H316.2V534.0H320.6V521.3H324.3V510.5H328.3V520.8H332.0V530.1H336.3V530.9H340.1V526.2H344.3V521.6H348.3V524.4H352.5V528.6H356.3V526.2H360.2V521.3H364.3V517.3H368.7V517.8H372.5V516.2H376.4V506.2H380.2V500.0H384.7V500.5H388.8V503.6H392.8V507.6H396.9V496.2H400.9V486.0H405.0V492.1H408.3V504.9H412.4V517.1H416.4V505.6H420.5V500.9H425.2V517.5H429.2V523.8H433.6V521.0H437.8V516.3H440.7V469.3H445.0V440.0H500.9V493.8H505.5V512.3H509.0" stroke="#ff0000" stroke-width="1.49"/>
<path d="M357.10,525.50H357.85V523.66H358.60V521.60H359.40V517.77H360.20V514.70H360.75V518.77H361.30V523.20H362.20V532.40H362.95V533.33H363.70V534.70H364.25V530.64H364.80V526.20H365.35V524.04H365.90V521.60H366.50V526.56H367.10V530.90H367.90V540.10H368.70V534.00H369.40V521.60H370.20V508.50H370.95V507.02H371.70V506.20H372.50V506.89H373.30V507.70H373.90V510.02H374.50V513.10H375.05V510.17H375.60V507.70H376.35V509.25H377.10V510.80H377.90V508.12H378.70V506.20H379.45V504.81H380.20V503.90H380.75V505.57H381.30V507.00H382.00V516.44H382.70V525.80H383.35V522.88H384.00V520.40H384.70V522.27H385.40V524.25H386.10V525.80H386.75V523.41H387.40V521.80H388.10V509.89H388.80V497.50H389.45V500.36H390.10V502.90H390.80V507.47H391.50V512.30H392.15V513.07H392.80V514.40H393.50V512.37H394.20V509.60H394.80V523.10H395.35V514.22H395.90V505.60H396.70V504.62H397.50V504.30H398.20V498.88H398.90V494.10H399.55V495.43H400.20V496.20H400.90V501.68H401.60V507.00H402.25V510.95H402.90V514.40H403.60V508.48H404.30V502.20H404.95V503.28H405.60V504.30H406.30V506.68H407.00V508.30H407.65V499.75H408.30V491.40H409.00V496.54H409.70V501.60H410.50V501.86H411.30V501.60H412.15V505.69H413.00V509.60H413.70V511.24H414.40V512.30H414.85V510.36H415.30V508.30H415.85V515.86H416.40V523.10H417.10V518.04H417.80V513.70H418.47V515.72H419.13V518.00H419.80V520.40H420.45V523.46H421.10V527.20H421.80V524.29H422.50V521.80H423.15V518.78H423.80V516.40H424.50V519.57H425.20V523.10H425.85V528.61H426.50V533.90H427.20V531.09H427.90V528.50H428.55V531.10H429.20V533.90H429.90V532.32H430.60V531.20H431.25V533.06H431.90V535.30H432.60V530.25H433.30V524.50H433.95V519.87H434.60V515.00H435.30V509.74H436.00V504.30H436.65V503.34H437.30V502.90H437.80V507.78H438.30V512.30H438.80V513.38H439.30V515.00H439.85V505.50H440.40V496.20H440.90V488.49H441.40V480.00H442.00V466.50H442.70V450.00H443.58V450.11H444.46V450.05H445.34V450.15H446.22V450.27H447.10V450.22H447.98V449.78H448.86V449.63H449.74V449.85H450.62V449.81H451.50V450.00H452.30V461.00H452.80V455.27H453.30V450.00" stroke="#000000" stroke-width="1.54"/>
</g>
<g stroke="#000" fill="none">
<rect x="307.5" y="452.8" width="200.7" height="89.2" stroke-width="1.5"/>
<line x1="319.50" y1="542.00" x2="319.50" y2="533.40" stroke-width="1.3"/>
<line x1="319.50" y1="452.80" x2="319.50" y2="461.40" stroke-width="1.3"/>
<line x1="339.57" y1="542.00" x2="339.57" y2="537.40" stroke-width="1.3"/>
<line x1="339.57" y1="452.80" x2="339.57" y2="457.40" stroke-width="1.3"/>
<line x1="359.64" y1="542.00" x2="359.64" y2="537.40" stroke-width="1.3"/>
<line x1="359.64" y1="452.80" x2="359.64" y2="457.40" stroke-width="1.3"/>
<line x1="379.71" y1="542.00" x2="379.71" y2="537.40" stroke-width="1.3"/>
<line x1="379.71" y1="452.80" x2="379.71" y2="457.40" stroke-width="1.3"/>
<line x1="399.78" y1="542.00" x2="399.78" y2="533.40" stroke-width="1.3"/>
<line x1="399.78" y1="452.80" x2="399.78" y2="461.40" stroke-width="1.3"/>
<line x1="419.85" y1="542.00" x2="419.85" y2="537.40" stroke-width="1.3"/>
<line x1="419.85" y1="452.80" x2="419.85" y2="457.40" stroke-width="1.3"/>
<line x1="439.92" y1="542.00" x2="439.92" y2="537.40" stroke-width="1.3"/>
<line x1="439.92" y1="452.80" x2="439.92" y2="457.40" stroke-width="1.3"/>
<line x1="459.99" y1="542.00" x2="459.99" y2="537.40" stroke-width="1.3"/>
<line x1="459.99" y1="452.80" x2="459.99" y2="457.40" stroke-width="1.3"/>
<line x1="480.06" y1="542.00" x2="480.06" y2="533.40" stroke-width="1.3"/>
<line x1="480.06" y1="452.80" x2="480.06" y2="461.40" stroke-width="1.3"/>
<line x1="500.13" y1="542.00" x2="500.13" y2="537.40" stroke-width="1.3"/>
<line x1="500.13" y1="452.80" x2="500.13" y2="457.40" stroke-width="1.3"/>
<line x1="307.50" y1="454.54" x2="312.10" y2="454.54" stroke-width="1.3"/>
<line x1="508.20" y1="454.54" x2="503.60" y2="454.54" stroke-width="1.3"/>
<line x1="307.50" y1="458.52" x2="312.10" y2="458.52" stroke-width="1.3"/>
<line x1="508.20" y1="458.52" x2="503.60" y2="458.52" stroke-width="1.3"/>
<line x1="307.50" y1="462.50" x2="316.10" y2="462.50" stroke-width="1.3"/>
<line x1="508.20" y1="462.50" x2="499.60" y2="462.50" stroke-width="1.3"/>
<line x1="307.50" y1="466.48" x2="312.10" y2="466.48" stroke-width="1.3"/>
<line x1="508.20" y1="466.48" x2="503.60" y2="466.48" stroke-width="1.3"/>
<line x1="307.50" y1="470.46" x2="312.10" y2="470.46" stroke-width="1.3"/>
<line x1="508.20" y1="470.46" x2="503.60" y2="470.46" stroke-width="1.3"/>
<line x1="307.50" y1="474.44" x2="312.10" y2="474.44" stroke-width="1.3"/>
<line x1="508.20" y1="474.44" x2="503.60" y2="474.44" stroke-width="1.3"/>
<line x1="307.50" y1="478.42" x2="312.10" y2="478.42" stroke-width="1.3"/>
<line x1="508.20" y1="478.42" x2="503.60" y2="478.42" stroke-width="1.3"/>
<line x1="307.50" y1="482.40" x2="316.10" y2="482.40" stroke-width="1.3"/>
<line x1="508.20" y1="482.40" x2="499.60" y2="482.40" stroke-width="1.3"/>
<line x1="307.50" y1="486.38" x2="312.10" y2="486.38" stroke-width="1.3"/>
<line x1="508.20" y1="486.38" x2="503.60" y2="486.38" stroke-width="1.3"/>
<line x1="307.50" y1="490.36" x2="312.10" y2="490.36" stroke-width="1.3"/>
<line x1="508.20" y1="490.36" x2="503.60" y2="490.36" stroke-width="1.3"/>
<line x1="307.50" y1="494.34" x2="312.10" y2="494.34" stroke-width="1.3"/>
<line x1="508.20" y1="494.34" x2="503.60" y2="494.34" stroke-width="1.3"/>
<line x1="307.50" y1="498.32" x2="312.10" y2="498.32" stroke-width="1.3"/>
<line x1="508.20" y1="498.32" x2="503.60" y2="498.32" stroke-width="1.3"/>
<line x1="307.50" y1="502.30" x2="316.10" y2="502.30" stroke-width="1.3"/>
<line x1="508.20" y1="502.30" x2="499.60" y2="502.30" stroke-width="1.3"/>
<line x1="307.50" y1="506.28" x2="312.10" y2="506.28" stroke-width="1.3"/>
<line x1="508.20" y1="506.28" x2="503.60" y2="506.28" stroke-width="1.3"/>
<line x1="307.50" y1="510.26" x2="312.10" y2="510.26" stroke-width="1.3"/>
<line x1="508.20" y1="510.26" x2="503.60" y2="510.26" stroke-width="1.3"/>
<line x1="307.50" y1="514.24" x2="312.10" y2="514.24" stroke-width="1.3"/>
<line x1="508.20" y1="514.24" x2="503.60" y2="514.24" stroke-width="1.3"/>
<line x1="307.50" y1="518.22" x2="312.10" y2="518.22" stroke-width="1.3"/>
<line x1="508.20" y1="518.22" x2="503.60" y2="518.22" stroke-width="1.3"/>
<line x1="307.50" y1="522.20" x2="316.10" y2="522.20" stroke-width="1.3"/>
<line x1="508.20" y1="522.20" x2="499.60" y2="522.20" stroke-width="1.3"/>
<line x1="307.50" y1="526.18" x2="312.10" y2="526.18" stroke-width="1.3"/>
<line x1="508.20" y1="526.18" x2="503.60" y2="526.18" stroke-width="1.3"/>
<line x1="307.50" y1="530.16" x2="312.10" y2="530.16" stroke-width="1.3"/>
<line x1="508.20" y1="530.16" x2="503.60" y2="530.16" stroke-width="1.3"/>
<line x1="307.50" y1="534.14" x2="312.10" y2="534.14" stroke-width="1.3"/>
<line x1="508.20" y1="534.14" x2="503.60" y2="534.14" stroke-width="1.3"/>
<line x1="307.50" y1="538.12" x2="312.10" y2="538.12" stroke-width="1.3"/>
<line x1="508.20" y1="538.12" x2="503.60" y2="538.12" stroke-width="1.3"/>
<line x1="307.50" y1="542.10" x2="316.10" y2="542.10" stroke-width="1.3"/>
<line x1="508.20" y1="542.10" x2="499.60" y2="542.10" stroke-width="1.3"/>
</g>
<text x="319.50" y="560.60" text-anchor="middle" stroke="#000" stroke-width="0.25" font-size="14.0" textLength="48.2" lengthAdjust="spacingAndGlyphs">268320</text>
<text x="399.80" y="560.60" text-anchor="middle" stroke="#000" stroke-width="0.25" font-size="14.0" textLength="48.2" lengthAdjust="spacingAndGlyphs">268360</text>
<text x="480.10" y="560.60" text-anchor="middle" stroke="#000" stroke-width="0.25" font-size="14.0" textLength="48.2" lengthAdjust="spacingAndGlyphs">268400</text>
<text x="300.10" y="467.45" text-anchor="end" stroke="#000" stroke-width="0.25" font-size="14.0" textLength="20.5" lengthAdjust="spacingAndGlyphs">0.3</text>
<text x="300.10" y="487.35" text-anchor="end" stroke="#000" stroke-width="0.25" font-size="14.0" textLength="20.5" lengthAdjust="spacingAndGlyphs">0.2</text>
<text x="300.10" y="507.25" text-anchor="end" stroke="#000" stroke-width="0.25" font-size="14.0" textLength="20.5" lengthAdjust="spacingAndGlyphs">0.1</text>
<text x="300.10" y="527.15" text-anchor="end" stroke="#000" stroke-width="0.25" font-size="14.0" textLength="8.0" lengthAdjust="spacingAndGlyphs">0</text>
<text x="300.10" y="546.95" text-anchor="end" stroke="#000" stroke-width="0.25" font-size="14.0" textLength="20.5" lengthAdjust="spacingAndGlyphs">0.1</text>
<line x1="270.04" y1="542.40" x2="277.94" y2="542.40" stroke="#000" stroke-width="1.35"/>
</g>
<g id="R6">
<clipPath id="cR6"><rect x="307.5" y="564.5" width="200.7" height="89.2"/></clipPath>
<g clip-path="url(#cR6)" fill="none" stroke-linejoin="round">
<path d="M306.8,644.0H325.5V644.7H330.1V643.2H342.0V643.8H350.0V643.2H357.9V644.3H369.4V630.4H373.3V598.5H377.1V592.8H381.5V603.2H385.4V608.6H389.4V612.7H393.5V611.7H397.5V610.4H401.6V610.0H405.6V609.0H409.0V605.9H413.0V597.8H417.1V590.4H421.8V614.7H425.9V640.3H431.3V641.6H436.0V643.7H440.7V643.0H445.4V642.7H453.5V641.6H458.2V620.3H462.3V589.7H466.3V590.1H469.9V598.9H474.4V598.2H478.4V596.5H482.5V597.8H491.3V598.1H495.3V598.5H499.3V599.2H502.7V597.1H506.4V611.7H509.0" stroke="#ff0000" stroke-width="1.49"/>
<path d="M357.90,644.30H358.67V643.08H359.43V642.64H360.20V641.60H360.97V641.12H361.73V641.11H362.50V640.90H363.27V641.25H364.03V641.57H364.80V641.60H365.57V641.07H366.33V640.60H367.10V640.10H367.90V640.16H368.70V640.90H369.45V640.05H370.20V639.30H370.95V637.66H371.70V636.20H372.50V631.85H373.30V627.00H373.90V620.88H374.50V614.70H375.05V609.48H375.60V603.90H376.15V601.50H376.70V599.20H377.30V598.62H377.90V598.50H378.80V605.40H379.80V620.80H380.40V621.85H381.00V622.40H381.50V625.00H382.40V636.90H383.40V632.90H384.40V634.12H385.40V634.90H386.40V635.51H387.40V636.30H388.40V636.32H389.40V636.90H390.10V635.81H390.80V634.70H391.50V633.60H392.50V633.44H393.50V632.90H394.50V632.62H395.50V632.20H396.50V630.85H397.50V629.50H398.20V628.65H398.90V627.61H399.60V626.80H400.60V625.83H401.60V625.50H402.15V624.84H402.70V624.80H403.60V628.20H404.60V629.16H405.60V629.50H406.50V629.74H407.40V629.36H408.30V629.50H409.20V630.24H410.10V630.45H411.00V630.90H411.90V630.82H412.80V631.55H413.70V631.50H414.60V631.79H415.50V632.27H416.40V632.20H417.30V631.98H418.20V631.50H419.10V624.10H419.80V621.12H420.50V618.70H421.15V614.09H421.80V609.30H422.35V605.45H422.90V601.20H423.80V604.60H424.80V616.00H425.60V628.20H426.50V637.60H427.20V639.88H427.90V641.60H428.90V641.83H429.90V642.30H430.80V642.55H431.70V642.91H432.60V643.00H433.50V642.53H434.40V642.78H435.30V642.30H436.20V642.96H437.10V642.92H438.00V643.70H438.90V643.76H439.80V643.61H440.70V643.70H441.60V643.25H442.50V643.31H443.40V643.00H444.30V643.23H445.20V642.84H446.10V642.70" stroke="#000000" stroke-width="1.54"/>
</g>
<g stroke="#000" fill="none">
<rect x="307.5" y="564.5" width="200.7" height="89.2" stroke-width="1.5"/>
<line x1="308.80" y1="653.70" x2="308.80" y2="649.10" stroke-width="1.3"/>
<line x1="308.80" y1="564.50" x2="308.80" y2="569.10" stroke-width="1.3"/>
<line x1="328.75" y1="653.70" x2="328.75" y2="649.10" stroke-width="1.3"/>
<line x1="328.75" y1="564.50" x2="328.75" y2="569.10" stroke-width="1.3"/>
<line x1="348.70" y1="653.70" x2="348.70" y2="645.10" stroke-width="1.3"/>
<line x1="348.70" y1="564.50" x2="348.70" y2="573.10" stroke-width="1.3"/>
<line x1="368.65" y1="653.70" x2="368.65" y2="649.10" stroke-width="1.3"/>
<line x1="368.65" y1="564.50" x2="368.65" y2="569.10" stroke-width="1.3"/>
<line x1="388.60" y1="653.70" x2="388.60" y2="649.10" stroke-width="1.3"/>
<line x1="388.60" y1="564.50" x2="388.60" y2="569.10" stroke-width="1.3"/>
<line x1="408.55" y1="653.70" x2="408.55" y2="649.10" stroke-width="1.3"/>
<line x1="408.55" y1="564.50" x2="408.55" y2="569.10" stroke-width="1.3"/>
<line x1="428.50" y1="653.70" x2="428.50" y2="645.10" stroke-width="1.3"/>
<line x1="428.50" y1="564.50" x2="428.50" y2="573.10" stroke-width="1.3"/>
<line x1="448.45" y1="653.70" x2="448.45" y2="649.10" stroke-width="1.3"/>
<line x1="448.45" y1="564.50" x2="448.45" y2="569.10" stroke-width="1.3"/>
<line x1="468.40" y1="653.70" x2="468.40" y2="649.10" stroke-width="1.3"/>
<line x1="468.40" y1="564.50" x2="468.40" y2="569.10" stroke-width="1.3"/>
<line x1="488.35" y1="653.70" x2="488.35" y2="649.10" stroke-width="1.3"/>
<line x1="488.35" y1="564.50" x2="488.35" y2="569.10" stroke-width="1.3"/>
<line x1="508.30" y1="653.70" x2="508.30" y2="645.10" stroke-width="1.3"/>
<line x1="508.30" y1="564.50" x2="508.30" y2="573.10" stroke-width="1.3"/>
<line x1="307.50" y1="564.60" x2="316.10" y2="564.60" stroke-width="1.3"/>
<line x1="508.20" y1="564.60" x2="499.60" y2="564.60" stroke-width="1.3"/>
<line x1="307.50" y1="569.87" x2="312.10" y2="569.87" stroke-width="1.3"/>
<line x1="508.20" y1="569.87" x2="503.60" y2="569.87" stroke-width="1.3"/>
<line x1="307.50" y1="575.14" x2="312.10" y2="575.14" stroke-width="1.3"/>
<line x1="508.20" y1="575.14" x2="503.60" y2="575.14" stroke-width="1.3"/>
<line x1="307.50" y1="580.41" x2="312.10" y2="580.41" stroke-width="1.3"/>
<line x1="508.20" y1="580.41" x2="503.60" y2="580.41" stroke-width="1.3"/>
<line x1="307.50" y1="585.68" x2="312.10" y2="585.68" stroke-width="1.3"/>
<line x1="508.20" y1="585.68" x2="503.60" y2="585.68" stroke-width="1.3"/>
<line x1="307.50" y1="590.95" x2="316.10" y2="590.95" stroke-width="1.3"/>
<line x1="508.20" y1="590.95" x2="499.60" y2="590.95" stroke-width="1.3"/>
<line x1="307.50" y1="596.22" x2="312.10" y2="596.22" stroke-width="1.3"/>
<line x1="508.20" y1="596.22" x2="503.60" y2="596.22" stroke-width="1.3"/>
<line x1="307.50" y1="601.49" x2="312.10" y2="601.49" stroke-width="1.3"/>
<line x1="508.20" y1="601.49" x2="503.60" y2="601.49" stroke-width="1.3"/>
<line x1="307.50" y1="606.76" x2="312.10" y2="606.76" stroke-width="1.3"/>
<line x1="508.20" y1="606.76" x2="503.60" y2="606.76" stroke-width="1.3"/>
<line x1="307.50" y1="612.03" x2="312.10" y2="612.03" stroke-width="1.3"/>
<line x1="508.20" y1="612.03" x2="503.60" y2="612.03" stroke-width="1.3"/>
<line x1="307.50" y1="617.30" x2="316.10" y2="617.30" stroke-width="1.3"/>
<line x1="508.20" y1="617.30" x2="499.60" y2="617.30" stroke-width="1.3"/>
<line x1="307.50" y1="622.57" x2="312.10" y2="622.57" stroke-width="1.3"/>
<line x1="508.20" y1="622.57" x2="503.60" y2="622.57" stroke-width="1.3"/>
<line x1="307.50" y1="627.84" x2="312.10" y2="627.84" stroke-width="1.3"/>
<line x1="508.20" y1="627.84" x2="503.60" y2="627.84" stroke-width="1.3"/>
<line x1="307.50" y1="633.11" x2="312.10" y2="633.11" stroke-width="1.3"/>
<line x1="508.20" y1="633.11" x2="503.60" y2="633.11" stroke-width="1.3"/>
<line x1="307.50" y1="638.38" x2="312.10" y2="638.38" stroke-width="1.3"/>
<line x1="508.20" y1="638.38" x2="503.60" y2="638.38" stroke-width="1.3"/>
<line x1="307.50" y1="643.65" x2="316.10" y2="643.65" stroke-width="1.3"/>
<line x1="508.20" y1="643.65" x2="499.60" y2="643.65" stroke-width="1.3"/>
<line x1="307.50" y1="648.92" x2="312.10" y2="648.92" stroke-width="1.3"/>
<line x1="508.20" y1="648.92" x2="503.60" y2="648.92" stroke-width="1.3"/>
</g>
<text x="348.70" y="672.30" text-anchor="middle" stroke="#000" stroke-width="0.45" font-size="14.0" textLength="48.2" lengthAdjust="spacingAndGlyphs">263720</text>
<text x="428.50" y="672.30" text-anchor="middle" stroke="#000" stroke-width="0.45" font-size="14.0" textLength="48.2" lengthAdjust="spacingAndGlyphs">263760</text>
<text x="300.10" y="569.55" text-anchor="end" stroke="#000" stroke-width="0.45" font-size="14.0" textLength="8.0" lengthAdjust="spacingAndGlyphs">3</text>
<text x="300.10" y="595.85" text-anchor="end" stroke="#000" stroke-width="0.45" font-size="14.0" textLength="8.0" lengthAdjust="spacingAndGlyphs">2</text>
<text x="300.10" y="622.15" text-anchor="end" stroke="#000" stroke-width="0.45" font-size="14.0" textLength="8.0" lengthAdjust="spacingAndGlyphs">1</text>
<text x="300.10" y="648.55" text-anchor="end" stroke="#000" stroke-width="0.45" font-size="14.0" textLength="8.0" lengthAdjust="spacingAndGlyphs">0</text>
</g>
<text x="61.55" y="27.20" text-anchor="start" stroke="#000" stroke-width="0.45" font-size="14.0" textLength="31.0" lengthAdjust="spacingAndGlyphs">NaCl</text>
<text x="99.30" y="27.20" text-anchor="start" stroke="#000" stroke-width="0.45" font-size="14.0" textLength="17.5" lengthAdjust="spacingAndGlyphs">20</text>
<line x1="117.45" y1="23.60" x2="126.25" y2="23.60" stroke="#000" stroke-width="1.52"/>
<text x="126.95" y="27.20" text-anchor="start" stroke="#000" stroke-width="0.45" font-size="14.0" textLength="17.5" lengthAdjust="spacingAndGlyphs">19</text>
<text x="172.90" y="27.30" text-anchor="start" stroke="#000" stroke-width="0.45" font-size="14.0" textLength="39.9" lengthAdjust="spacingAndGlyphs">Setup</text>
<text x="220.40" y="27.30" text-anchor="start" stroke="#000" stroke-width="0.45" font-size="14.0" textLength="8.0" lengthAdjust="spacingAndGlyphs">5</text>
<text x="61.50" y="139.30" text-anchor="start" stroke="#000" stroke-width="0.3" font-size="14.0" textLength="31.5" lengthAdjust="spacingAndGlyphs">NaCl</text>
<text x="99.00" y="139.30" text-anchor="start" stroke="#000" stroke-width="0.3" font-size="14.0" textLength="15.7" lengthAdjust="spacingAndGlyphs">21</text>
<line x1="115.40" y1="135.70" x2="124.20" y2="135.70" stroke="#000" stroke-width="1.43"/>
<text x="124.90" y="139.30" text-anchor="start" stroke="#000" stroke-width="0.3" font-size="14.0" textLength="15.7" lengthAdjust="spacingAndGlyphs">20</text>
<text x="172.90" y="139.30" text-anchor="start" stroke="#000" stroke-width="0.3" font-size="14.0" textLength="39.9" lengthAdjust="spacingAndGlyphs">Setup</text>
<text x="220.40" y="139.30" text-anchor="start" stroke="#000" stroke-width="0.3" font-size="14.0" textLength="8.0" lengthAdjust="spacingAndGlyphs">3</text>
<text x="45.20" y="250.80" text-anchor="start" stroke="#000" stroke-width="0.2" font-size="14.0" textLength="31.8" lengthAdjust="spacingAndGlyphs">NaCl</text>
<text x="83.30" y="250.80" text-anchor="start" stroke="#000" stroke-width="0.2" font-size="14.0" textLength="15.4" lengthAdjust="spacingAndGlyphs">21</text>
<line x1="99.45" y1="247.20" x2="108.25" y2="247.20" stroke="#000" stroke-width="1.37"/>
<text x="108.95" y="250.80" text-anchor="start" stroke="#000" stroke-width="0.2" font-size="14.0" textLength="15.5" lengthAdjust="spacingAndGlyphs">20</text>
<text x="130.70" y="250.80" text-anchor="start" stroke="#000" stroke-width="0.2" font-size="14.0" textLength="28.4" lengthAdjust="spacingAndGlyphs">v=1</text>
<text x="172.90" y="250.80" text-anchor="start" stroke="#000" stroke-width="0.2" font-size="14.0" textLength="39.9" lengthAdjust="spacingAndGlyphs">Setup</text>
<text x="220.40" y="250.80" text-anchor="start" stroke="#000" stroke-width="0.2" font-size="14.0" textLength="8.0" lengthAdjust="spacingAndGlyphs">3</text>
<text x="55.60" y="362.30" text-anchor="start" stroke="#000" stroke-width="0.45" font-size="14.0" textLength="17.6" lengthAdjust="spacingAndGlyphs">Na</text>
<text x="74.50" y="354.50" text-anchor="start" stroke="#000" stroke-width="0.45" font-size="9.6" textLength="10.3" lengthAdjust="spacingAndGlyphs">37</text>
<text x="85.10" y="362.30" text-anchor="start" stroke="#000" stroke-width="0.45" font-size="14.0" textLength="12.8" lengthAdjust="spacingAndGlyphs">Cl</text>
<text x="105.40" y="362.30" text-anchor="start" stroke="#000" stroke-width="0.45" font-size="14.0" textLength="16.1" lengthAdjust="spacingAndGlyphs">21</text>
<line x1="122.25" y1="358.70" x2="131.05" y2="358.70" stroke="#000" stroke-width="1.52"/>
<text x="131.75" y="362.30" text-anchor="start" stroke="#000" stroke-width="0.45" font-size="14.0" textLength="16.1" lengthAdjust="spacingAndGlyphs">20</text>
<text x="172.90" y="362.50" text-anchor="start" stroke="#000" stroke-width="0.45" font-size="14.0" textLength="39.9" lengthAdjust="spacingAndGlyphs">Setup</text>
<text x="220.40" y="362.50" text-anchor="start" stroke="#000" stroke-width="0.45" font-size="14.0" textLength="8.0" lengthAdjust="spacingAndGlyphs">3</text>
<text x="64.00" y="474.50" text-anchor="start" stroke="#000" stroke-width="0.45" font-size="14.0" textLength="25.8" lengthAdjust="spacingAndGlyphs">AlCl</text>
<text x="97.00" y="474.50" text-anchor="start" stroke="#000" stroke-width="0.45" font-size="14.0" textLength="16.5" lengthAdjust="spacingAndGlyphs">18</text>
<line x1="114.15" y1="470.90" x2="122.95" y2="470.90" stroke="#000" stroke-width="1.52"/>
<text x="123.65" y="474.50" text-anchor="start" stroke="#000" stroke-width="0.45" font-size="14.0" textLength="16.5" lengthAdjust="spacingAndGlyphs">17</text>
<text x="172.90" y="474.50" text-anchor="start" stroke="#000" stroke-width="0.45" font-size="14.0" textLength="39.9" lengthAdjust="spacingAndGlyphs">Setup</text>
<text x="220.40" y="474.50" text-anchor="start" stroke="#000" stroke-width="0.45" font-size="14.0" textLength="8.0" lengthAdjust="spacingAndGlyphs">5</text>
<text x="58.00" y="585.50" text-anchor="start" stroke="#000" stroke-width="0.45" font-size="14.0" textLength="12.8" lengthAdjust="spacingAndGlyphs">Al</text>
<text x="70.80" y="578.50" text-anchor="start" stroke="#000" stroke-width="0.45" font-size="9.6" textLength="11.6" lengthAdjust="spacingAndGlyphs">37</text>
<text x="82.50" y="585.50" text-anchor="start" stroke="#000" stroke-width="0.45" font-size="14.0" textLength="13.2" lengthAdjust="spacingAndGlyphs">Cl</text>
<text x="103.30" y="585.50" text-anchor="start" stroke="#000" stroke-width="0.45" font-size="14.0" textLength="16.6" lengthAdjust="spacingAndGlyphs">18</text>
<line x1="120.55" y1="581.90" x2="129.35" y2="581.90" stroke="#000" stroke-width="1.52"/>
<text x="130.05" y="585.50" text-anchor="start" stroke="#000" stroke-width="0.45" font-size="14.0" textLength="16.5" lengthAdjust="spacingAndGlyphs">17</text>
<text x="172.90" y="585.80" text-anchor="start" stroke="#000" stroke-width="0.45" font-size="14.0" textLength="39.9" lengthAdjust="spacingAndGlyphs">Setup</text>
<text x="220.40" y="585.80" text-anchor="start" stroke="#000" stroke-width="0.45" font-size="14.0" textLength="8.0" lengthAdjust="spacingAndGlyphs">6</text>
<text x="322.00" y="26.80" text-anchor="start" stroke="#000" stroke-width="0.3" font-size="14.0" textLength="12.6" lengthAdjust="spacingAndGlyphs">Al</text>
<text x="334.50" y="20.40" text-anchor="start" stroke="#000" stroke-width="0.3" font-size="9.6" textLength="11.2" lengthAdjust="spacingAndGlyphs">37</text>
<text x="345.50" y="26.80" text-anchor="start" stroke="#000" stroke-width="0.3" font-size="14.0" textLength="13.7" lengthAdjust="spacingAndGlyphs">Cl</text>
<text x="366.30" y="26.80" text-anchor="start" stroke="#000" stroke-width="0.3" font-size="14.0" textLength="16.6" lengthAdjust="spacingAndGlyphs">19</text>
<line x1="383.60" y1="23.20" x2="392.40" y2="23.20" stroke="#000" stroke-width="1.43"/>
<text x="393.10" y="26.80" text-anchor="start" stroke="#000" stroke-width="0.3" font-size="14.0" textLength="16.6" lengthAdjust="spacingAndGlyphs">18</text>
<text x="436.30" y="27.40" text-anchor="start" stroke="#000" stroke-width="0.3" font-size="14.0" textLength="39.9" lengthAdjust="spacingAndGlyphs">Setup</text>
<text x="483.80" y="27.40" text-anchor="start" stroke="#000" stroke-width="0.3" font-size="14.0" textLength="8.0" lengthAdjust="spacingAndGlyphs">3</text>
<text x="329.00" y="139.30" text-anchor="start" stroke="#000" stroke-width="0.28" font-size="14.0" textLength="22.5" lengthAdjust="spacingAndGlyphs">KCl</text>
<text x="357.80" y="139.30" text-anchor="start" stroke="#000" stroke-width="0.28" font-size="14.0" textLength="17.0" lengthAdjust="spacingAndGlyphs">34</text>
<line x1="375.45" y1="135.70" x2="384.25" y2="135.70" stroke="#000" stroke-width="1.42"/>
<text x="384.95" y="139.30" text-anchor="start" stroke="#000" stroke-width="0.28" font-size="14.0" textLength="16.9" lengthAdjust="spacingAndGlyphs">33</text>
<text x="436.30" y="139.50" text-anchor="start" stroke="#000" stroke-width="0.28" font-size="14.0" textLength="39.9" lengthAdjust="spacingAndGlyphs">Setup</text>
<text x="483.80" y="139.50" text-anchor="start" stroke="#000" stroke-width="0.28" font-size="14.0" textLength="8.0" lengthAdjust="spacingAndGlyphs">5</text>
<text x="329.00" y="251.30" text-anchor="start" stroke="#000" stroke-width="0.32" font-size="14.0" textLength="22.5" lengthAdjust="spacingAndGlyphs">KCl</text>
<text x="357.80" y="251.30" text-anchor="start" stroke="#000" stroke-width="0.32" font-size="14.0" textLength="17.0" lengthAdjust="spacingAndGlyphs">35</text>
<line x1="375.45" y1="247.70" x2="384.25" y2="247.70" stroke="#000" stroke-width="1.44"/>
<text x="384.95" y="251.30" text-anchor="start" stroke="#000" stroke-width="0.32" font-size="14.0" textLength="16.9" lengthAdjust="spacingAndGlyphs">34</text>
<text x="436.30" y="251.30" text-anchor="start" stroke="#000" stroke-width="0.32" font-size="14.0" textLength="39.9" lengthAdjust="spacingAndGlyphs">Setup</text>
<text x="483.80" y="251.30" text-anchor="start" stroke="#000" stroke-width="0.32" font-size="14.0" textLength="8.0" lengthAdjust="spacingAndGlyphs">4</text>
<text x="323.00" y="362.80" text-anchor="start" stroke="#000" stroke-width="0.32" font-size="14.0" textLength="10.1" lengthAdjust="spacingAndGlyphs">K</text>
<text x="333.00" y="355.30" text-anchor="start" stroke="#000" stroke-width="0.32" font-size="9.6" textLength="11.9" lengthAdjust="spacingAndGlyphs">37</text>
<text x="344.30" y="362.80" text-anchor="start" stroke="#000" stroke-width="0.32" font-size="14.0" textLength="13.1" lengthAdjust="spacingAndGlyphs">Cl</text>
<text x="364.30" y="362.80" text-anchor="start" stroke="#000" stroke-width="0.32" font-size="14.0" textLength="16.2" lengthAdjust="spacingAndGlyphs">35</text>
<line x1="381.25" y1="359.20" x2="390.05" y2="359.20" stroke="#000" stroke-width="1.44"/>
<text x="390.75" y="362.80" text-anchor="start" stroke="#000" stroke-width="0.32" font-size="14.0" textLength="16.2" lengthAdjust="spacingAndGlyphs">34</text>
<text x="436.30" y="363.00" text-anchor="start" stroke="#000" stroke-width="0.32" font-size="14.0" textLength="39.9" lengthAdjust="spacingAndGlyphs">Setup</text>
<text x="483.80" y="363.00" text-anchor="start" stroke="#000" stroke-width="0.32" font-size="14.0" textLength="8.0" lengthAdjust="spacingAndGlyphs">5</text>
<text x="323.00" y="474.80" text-anchor="start" stroke="#000" stroke-width="0.25" font-size="14.0" textLength="10.1" lengthAdjust="spacingAndGlyphs">K</text>
<text x="333.00" y="467.30" text-anchor="start" stroke="#000" stroke-width="0.25" font-size="9.6" textLength="11.9" lengthAdjust="spacingAndGlyphs">37</text>
<text x="344.30" y="474.80" text-anchor="start" stroke="#000" stroke-width="0.25" font-size="14.0" textLength="13.1" lengthAdjust="spacingAndGlyphs">Cl</text>
<text x="364.30" y="474.80" text-anchor="start" stroke="#000" stroke-width="0.25" font-size="14.0" textLength="16.2" lengthAdjust="spacingAndGlyphs">36</text>
<line x1="381.25" y1="471.20" x2="390.05" y2="471.20" stroke="#000" stroke-width="1.40"/>
<text x="390.75" y="474.80" text-anchor="start" stroke="#000" stroke-width="0.25" font-size="14.0" textLength="16.2" lengthAdjust="spacingAndGlyphs">35</text>
<text x="436.30" y="474.70" text-anchor="start" stroke="#000" stroke-width="0.25" font-size="14.0" textLength="39.9" lengthAdjust="spacingAndGlyphs">Setup</text>
<text x="483.80" y="474.70" text-anchor="start" stroke="#000" stroke-width="0.25" font-size="14.0" textLength="8.0" lengthAdjust="spacingAndGlyphs">4</text>
<text x="337.80" y="585.90" text-anchor="start" stroke="#000" stroke-width="0.45" font-size="14.0" textLength="21.3" lengthAdjust="spacingAndGlyphs">AlF</text>
<text x="365.40" y="585.90" text-anchor="start" stroke="#000" stroke-width="0.45" font-size="14.0" textLength="8.5" lengthAdjust="spacingAndGlyphs">8</text>
<line x1="374.65" y1="582.30" x2="383.45" y2="582.30" stroke="#000" stroke-width="1.52"/>
<text x="384.15" y="585.90" text-anchor="start" stroke="#000" stroke-width="0.45" font-size="14.0" textLength="8.5" lengthAdjust="spacingAndGlyphs">7</text>
<text x="436.30" y="586.10" text-anchor="start" stroke="#000" stroke-width="0.45" font-size="14.0" textLength="39.9" lengthAdjust="spacingAndGlyphs">Setup</text>
<text x="483.80" y="586.10" text-anchor="start" stroke="#000" stroke-width="0.45" font-size="14.0" textLength="8.0" lengthAdjust="spacingAndGlyphs">5</text>
<text x="104.40" y="686.40" text-anchor="start" stroke="#000" stroke-width="0.4" font-size="14.0" textLength="34.7" lengthAdjust="spacingAndGlyphs">Freq.</text>
<text x="146.30" y="686.40" text-anchor="start" stroke="#000" stroke-width="0.4" font-size="14.0" textLength="37.2" lengthAdjust="spacingAndGlyphs">(Mhz)</text>
<text x="367.40" y="686.40" text-anchor="start" stroke="#000" stroke-width="0.4" font-size="14.0" textLength="34.7" lengthAdjust="spacingAndGlyphs">Freq.</text>
<text x="409.30" y="686.40" text-anchor="start" stroke="#000" stroke-width="0.4" font-size="14.0" textLength="37.2" lengthAdjust="spacingAndGlyphs">(Mhz)</text>
<g transform="translate(10.3,670.8) rotate(-90)">
<text x="-0.30" y="0.00" text-anchor="start" stroke="#000" stroke-width="0.4" font-size="14.0" textLength="32.0" lengthAdjust="spacingAndGlyphs">Flux</text>
<text x="37.20" y="0.00" text-anchor="start" stroke="#000" stroke-width="0.4" font-size="14.0" textLength="52.3" lengthAdjust="spacingAndGlyphs">density</text>
<text x="94.00" y="0.00" text-anchor="start" stroke="#000" stroke-width="0.4" font-size="14.0" textLength="28.0" lengthAdjust="spacingAndGlyphs">(Jy)</text>
</g>
</svg>
</body></html>
